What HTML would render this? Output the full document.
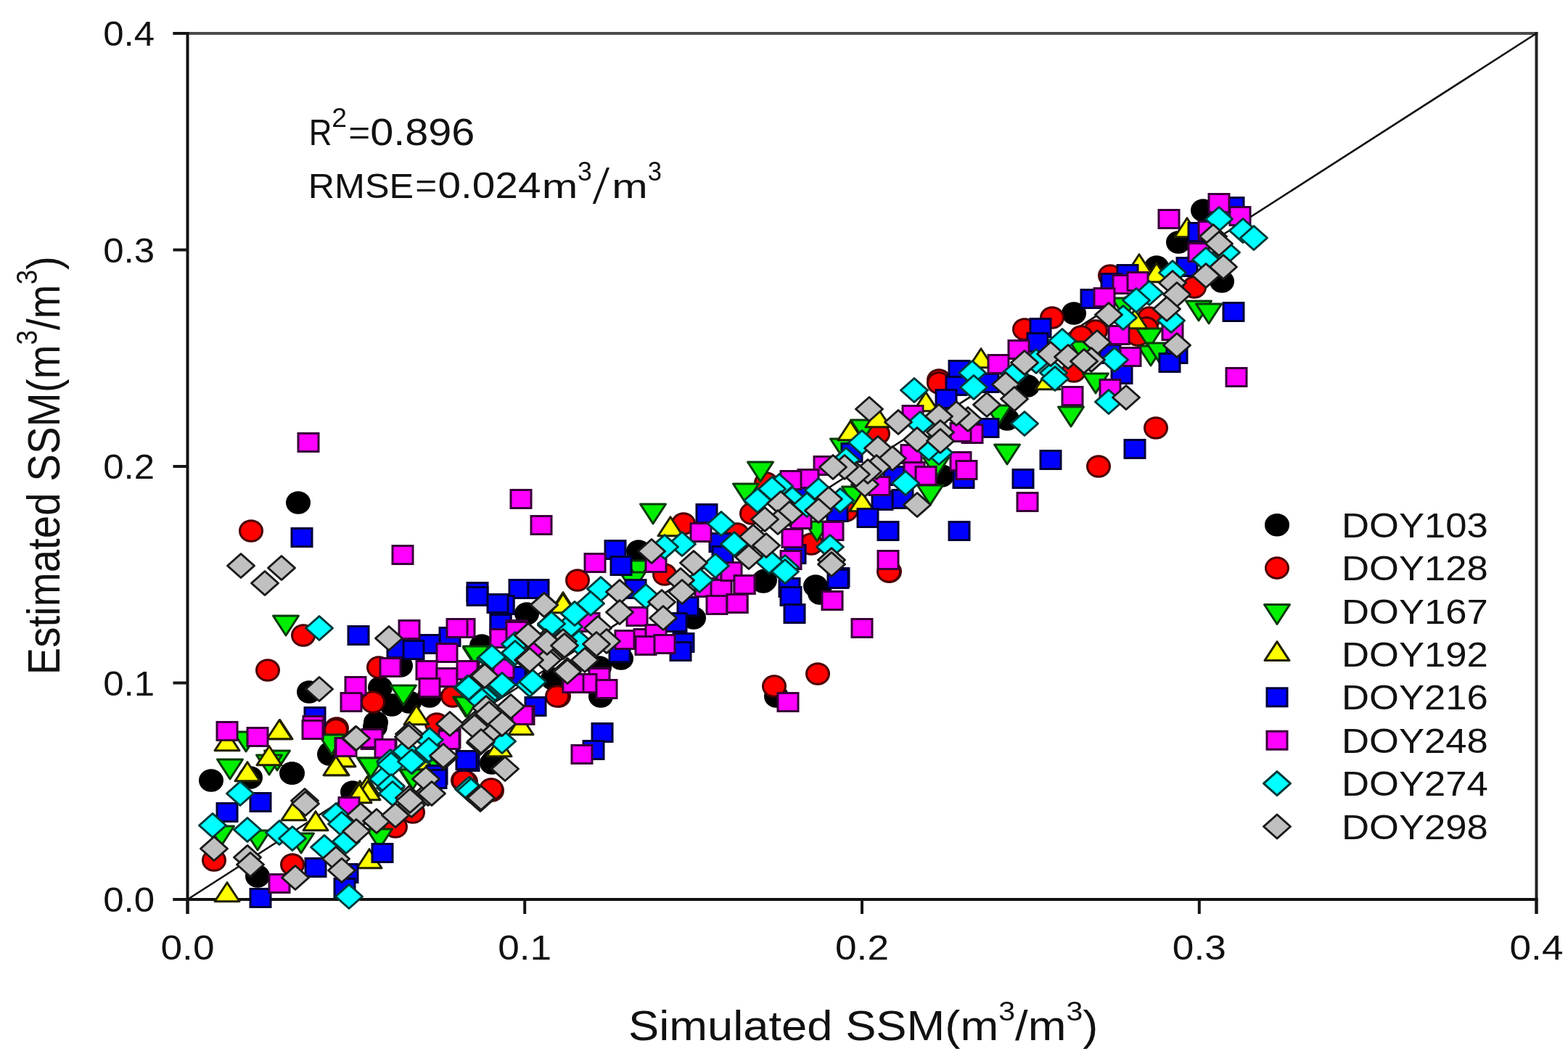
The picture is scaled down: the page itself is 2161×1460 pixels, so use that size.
<!DOCTYPE html>
<html><head><meta charset="utf-8"><title>SSM scatter</title>
<style>html,body{margin:0;padding:0;background:#fff;width:2161px;height:1460px;overflow:hidden;position:relative}</style>
</head><body>
<svg width="2161" height="1460" viewBox="0 0 2161 1460" style="position:absolute;left:0;top:0;filter:blur(0.5px)">
<rect width="100%" height="100%" fill="#ffffff"/>
<line x1="238.5" y1="46.0" x2="2119.5" y2="46.0" stroke="#4a4a4a" stroke-width="4"/>
<line x1="258.5" y1="44.0" x2="258.5" y2="1260.0" stroke="#111" stroke-width="4"/>
<line x1="2117.5" y1="44.0" x2="2117.5" y2="1260.0" stroke="#222" stroke-width="4"/>
<line x1="238.5" y1="1240.0" x2="2119.5" y2="1240.0" stroke="#111" stroke-width="4"/>
<line x1="258.5" y1="1240.0" x2="258.5" y2="1260.0" stroke="#151515" stroke-width="4"/>
<line x1="238.5" y1="1240.0" x2="258.5" y2="1240.0" stroke="#151515" stroke-width="4"/>
<line x1="723.2" y1="1240.0" x2="723.2" y2="1260.0" stroke="#151515" stroke-width="4"/>
<line x1="238.5" y1="941.5" x2="258.5" y2="941.5" stroke="#151515" stroke-width="4"/>
<line x1="1188.0" y1="1240.0" x2="1188.0" y2="1260.0" stroke="#151515" stroke-width="4"/>
<line x1="238.5" y1="643.0" x2="258.5" y2="643.0" stroke="#151515" stroke-width="4"/>
<line x1="1652.8" y1="1240.0" x2="1652.8" y2="1260.0" stroke="#151515" stroke-width="4"/>
<line x1="238.5" y1="344.5" x2="258.5" y2="344.5" stroke="#151515" stroke-width="4"/>
<line x1="2117.5" y1="1240.0" x2="2117.5" y2="1260.0" stroke="#151515" stroke-width="4"/>
<line x1="238.5" y1="46.0" x2="258.5" y2="46.0" stroke="#151515" stroke-width="4"/>
<g>
<line x1="258.5" y1="1240.0" x2="2117.5" y2="46.0" stroke="#111" stroke-width="2.6"/>
<ellipse cx="1658.0" cy="290.0" rx="15.5" ry="14.3" fill="#000000" stroke="#000000" stroke-width="3"/>
<ellipse cx="1624.0" cy="334.0" rx="15.5" ry="14.3" fill="#000000" stroke="#000000" stroke-width="3"/>
<ellipse cx="1594.0" cy="368.0" rx="15.5" ry="14.3" fill="#000000" stroke="#000000" stroke-width="3"/>
<ellipse cx="1684.0" cy="388.0" rx="15.5" ry="14.3" fill="#000000" stroke="#000000" stroke-width="3"/>
<ellipse cx="1480.0" cy="432.0" rx="15.5" ry="14.3" fill="#000000" stroke="#000000" stroke-width="3"/>
<ellipse cx="1416.0" cy="532.0" rx="15.5" ry="14.3" fill="#000000" stroke="#000000" stroke-width="3"/>
<ellipse cx="1388.0" cy="578.0" rx="15.5" ry="14.3" fill="#000000" stroke="#000000" stroke-width="3"/>
<ellipse cx="1298.0" cy="656.0" rx="15.5" ry="14.3" fill="#000000" stroke="#000000" stroke-width="3"/>
<ellipse cx="1124.0" cy="808.0" rx="15.5" ry="14.3" fill="#000000" stroke="#000000" stroke-width="3"/>
<ellipse cx="880.0" cy="760.0" rx="15.5" ry="14.3" fill="#000000" stroke="#000000" stroke-width="3"/>
<ellipse cx="1054.0" cy="800.0" rx="15.5" ry="14.3" fill="#000000" stroke="#000000" stroke-width="3"/>
<ellipse cx="956.0" cy="852.0" rx="15.5" ry="14.3" fill="#000000" stroke="#000000" stroke-width="3"/>
<ellipse cx="726.0" cy="846.0" rx="15.5" ry="14.3" fill="#000000" stroke="#000000" stroke-width="3"/>
<ellipse cx="664.0" cy="890.0" rx="15.5" ry="14.3" fill="#000000" stroke="#000000" stroke-width="3"/>
<ellipse cx="856.0" cy="908.0" rx="15.5" ry="14.3" fill="#000000" stroke="#000000" stroke-width="3"/>
<ellipse cx="826.0" cy="920.0" rx="15.5" ry="14.3" fill="#000000" stroke="#000000" stroke-width="3"/>
<ellipse cx="762.0" cy="936.0" rx="15.5" ry="14.3" fill="#000000" stroke="#000000" stroke-width="3"/>
<ellipse cx="828.0" cy="960.0" rx="15.5" ry="14.3" fill="#000000" stroke="#000000" stroke-width="3"/>
<ellipse cx="678.0" cy="1052.0" rx="15.5" ry="14.3" fill="#000000" stroke="#000000" stroke-width="3"/>
<ellipse cx="552.0" cy="918.0" rx="15.5" ry="14.3" fill="#000000" stroke="#000000" stroke-width="3"/>
<ellipse cx="426.0" cy="954.0" rx="15.5" ry="14.3" fill="#000000" stroke="#000000" stroke-width="3"/>
<ellipse cx="524.0" cy="948.0" rx="15.5" ry="14.3" fill="#000000" stroke="#000000" stroke-width="3"/>
<ellipse cx="540.0" cy="972.0" rx="15.5" ry="14.3" fill="#000000" stroke="#000000" stroke-width="3"/>
<ellipse cx="564.0" cy="968.0" rx="15.5" ry="14.3" fill="#000000" stroke="#000000" stroke-width="3"/>
<ellipse cx="592.0" cy="960.0" rx="15.5" ry="14.3" fill="#000000" stroke="#000000" stroke-width="3"/>
<ellipse cx="518.0" cy="996.0" rx="15.5" ry="14.3" fill="#000000" stroke="#000000" stroke-width="3"/>
<ellipse cx="454.0" cy="1040.0" rx="15.5" ry="14.3" fill="#000000" stroke="#000000" stroke-width="3"/>
<ellipse cx="402.0" cy="1066.0" rx="15.5" ry="14.3" fill="#000000" stroke="#000000" stroke-width="3"/>
<ellipse cx="486.0" cy="1092.0" rx="15.5" ry="14.3" fill="#000000" stroke="#000000" stroke-width="3"/>
<ellipse cx="517.0" cy="1002.0" rx="15.5" ry="14.3" fill="#000000" stroke="#000000" stroke-width="3"/>
<ellipse cx="455.0" cy="1038.0" rx="15.5" ry="14.3" fill="#000000" stroke="#000000" stroke-width="3"/>
<ellipse cx="345.0" cy="1072.0" rx="15.5" ry="14.3" fill="#000000" stroke="#000000" stroke-width="3"/>
<ellipse cx="291.0" cy="1076.0" rx="15.5" ry="14.3" fill="#000000" stroke="#000000" stroke-width="3"/>
<ellipse cx="403.0" cy="1066.0" rx="15.5" ry="14.3" fill="#000000" stroke="#000000" stroke-width="3"/>
<ellipse cx="355.0" cy="1208.0" rx="15.5" ry="14.3" fill="#000000" stroke="#000000" stroke-width="3"/>
<ellipse cx="487.0" cy="1096.0" rx="15.5" ry="14.3" fill="#000000" stroke="#000000" stroke-width="3"/>
<ellipse cx="681.0" cy="1048.0" rx="15.5" ry="14.3" fill="#000000" stroke="#000000" stroke-width="3"/>
<ellipse cx="411.0" cy="693.0" rx="15.5" ry="14.3" fill="#000000" stroke="#000000" stroke-width="3"/>
<ellipse cx="1052.0" cy="802.0" rx="15.5" ry="14.3" fill="#000000" stroke="#000000" stroke-width="3"/>
<ellipse cx="1130.0" cy="818.0" rx="15.5" ry="14.3" fill="#000000" stroke="#000000" stroke-width="3"/>
<ellipse cx="1070.0" cy="960.0" rx="15.5" ry="14.3" fill="#000000" stroke="#000000" stroke-width="3"/>
<ellipse cx="1646.0" cy="396.0" rx="15.5" ry="14.3" fill="#ff0000" stroke="#4a0000" stroke-width="3"/>
<ellipse cx="1530.0" cy="380.0" rx="15.5" ry="14.3" fill="#ff0000" stroke="#4a0000" stroke-width="3"/>
<ellipse cx="1584.0" cy="438.0" rx="15.5" ry="14.3" fill="#ff0000" stroke="#4a0000" stroke-width="3"/>
<ellipse cx="1510.0" cy="456.0" rx="15.5" ry="14.3" fill="#ff0000" stroke="#4a0000" stroke-width="3"/>
<ellipse cx="1580.0" cy="452.0" rx="15.5" ry="14.3" fill="#ff0000" stroke="#4a0000" stroke-width="3"/>
<ellipse cx="1568.0" cy="462.0" rx="15.5" ry="14.3" fill="#ff0000" stroke="#4a0000" stroke-width="3"/>
<ellipse cx="1593.0" cy="590.0" rx="15.5" ry="14.3" fill="#ff0000" stroke="#4a0000" stroke-width="3"/>
<ellipse cx="1514.0" cy="643.0" rx="15.5" ry="14.3" fill="#ff0000" stroke="#4a0000" stroke-width="3"/>
<ellipse cx="1450.0" cy="438.0" rx="15.5" ry="14.3" fill="#ff0000" stroke="#4a0000" stroke-width="3"/>
<ellipse cx="1412.0" cy="454.0" rx="15.5" ry="14.3" fill="#ff0000" stroke="#4a0000" stroke-width="3"/>
<ellipse cx="1490.0" cy="464.0" rx="15.5" ry="14.3" fill="#ff0000" stroke="#4a0000" stroke-width="3"/>
<ellipse cx="1480.0" cy="512.0" rx="15.5" ry="14.3" fill="#ff0000" stroke="#4a0000" stroke-width="3"/>
<ellipse cx="1294.0" cy="524.0" rx="15.5" ry="14.3" fill="#ff0000" stroke="#4a0000" stroke-width="3"/>
<ellipse cx="1294.0" cy="528.0" rx="15.5" ry="14.3" fill="#ff0000" stroke="#4a0000" stroke-width="3"/>
<ellipse cx="1210.0" cy="598.0" rx="15.5" ry="14.3" fill="#ff0000" stroke="#4a0000" stroke-width="3"/>
<ellipse cx="1226.0" cy="788.0" rx="15.5" ry="14.3" fill="#ff0000" stroke="#4a0000" stroke-width="3"/>
<ellipse cx="1166.0" cy="704.0" rx="15.5" ry="14.3" fill="#ff0000" stroke="#4a0000" stroke-width="3"/>
<ellipse cx="1118.0" cy="750.0" rx="15.5" ry="14.3" fill="#ff0000" stroke="#4a0000" stroke-width="3"/>
<ellipse cx="1056.0" cy="666.0" rx="15.5" ry="14.3" fill="#ff0000" stroke="#4a0000" stroke-width="3"/>
<ellipse cx="1036.0" cy="708.0" rx="15.5" ry="14.3" fill="#ff0000" stroke="#4a0000" stroke-width="3"/>
<ellipse cx="942.0" cy="722.0" rx="15.5" ry="14.3" fill="#ff0000" stroke="#4a0000" stroke-width="3"/>
<ellipse cx="1016.0" cy="736.0" rx="15.5" ry="14.3" fill="#ff0000" stroke="#4a0000" stroke-width="3"/>
<ellipse cx="916.0" cy="792.0" rx="15.5" ry="14.3" fill="#ff0000" stroke="#4a0000" stroke-width="3"/>
<ellipse cx="796.0" cy="800.0" rx="15.5" ry="14.3" fill="#ff0000" stroke="#4a0000" stroke-width="3"/>
<ellipse cx="770.0" cy="960.0" rx="15.5" ry="14.3" fill="#ff0000" stroke="#4a0000" stroke-width="3"/>
<ellipse cx="642.0" cy="1078.0" rx="15.5" ry="14.3" fill="#ff0000" stroke="#4a0000" stroke-width="3"/>
<ellipse cx="678.0" cy="1090.0" rx="15.5" ry="14.3" fill="#ff0000" stroke="#4a0000" stroke-width="3"/>
<ellipse cx="418.0" cy="876.0" rx="15.5" ry="14.3" fill="#ff0000" stroke="#4a0000" stroke-width="3"/>
<ellipse cx="522.0" cy="920.0" rx="15.5" ry="14.3" fill="#ff0000" stroke="#4a0000" stroke-width="3"/>
<ellipse cx="369.0" cy="924.0" rx="15.5" ry="14.3" fill="#ff0000" stroke="#4a0000" stroke-width="3"/>
<ellipse cx="514.0" cy="968.0" rx="15.5" ry="14.3" fill="#ff0000" stroke="#4a0000" stroke-width="3"/>
<ellipse cx="464.0" cy="1004.0" rx="15.5" ry="14.3" fill="#ff0000" stroke="#4a0000" stroke-width="3"/>
<ellipse cx="638.0" cy="1076.0" rx="15.5" ry="14.3" fill="#ff0000" stroke="#4a0000" stroke-width="3"/>
<ellipse cx="602.0" cy="998.0" rx="15.5" ry="14.3" fill="#ff0000" stroke="#4a0000" stroke-width="3"/>
<ellipse cx="768.0" cy="960.0" rx="15.5" ry="14.3" fill="#ff0000" stroke="#4a0000" stroke-width="3"/>
<ellipse cx="624.0" cy="960.0" rx="15.5" ry="14.3" fill="#ff0000" stroke="#4a0000" stroke-width="3"/>
<ellipse cx="463.0" cy="1006.0" rx="15.5" ry="14.3" fill="#ff0000" stroke="#4a0000" stroke-width="3"/>
<ellipse cx="295.0" cy="1186.0" rx="15.5" ry="14.3" fill="#ff0000" stroke="#4a0000" stroke-width="3"/>
<ellipse cx="403.0" cy="1192.0" rx="15.5" ry="14.3" fill="#ff0000" stroke="#4a0000" stroke-width="3"/>
<ellipse cx="569.0" cy="1120.0" rx="15.5" ry="14.3" fill="#ff0000" stroke="#4a0000" stroke-width="3"/>
<ellipse cx="545.0" cy="1140.0" rx="15.5" ry="14.3" fill="#ff0000" stroke="#4a0000" stroke-width="3"/>
<ellipse cx="639.0" cy="1076.0" rx="15.5" ry="14.3" fill="#ff0000" stroke="#4a0000" stroke-width="3"/>
<ellipse cx="677.0" cy="1088.0" rx="15.5" ry="14.3" fill="#ff0000" stroke="#4a0000" stroke-width="3"/>
<ellipse cx="346.0" cy="732.0" rx="15.5" ry="14.3" fill="#ff0000" stroke="#4a0000" stroke-width="3"/>
<ellipse cx="1225.0" cy="788.0" rx="15.5" ry="14.3" fill="#ff0000" stroke="#4a0000" stroke-width="3"/>
<ellipse cx="1127.0" cy="929.0" rx="15.5" ry="14.3" fill="#ff0000" stroke="#4a0000" stroke-width="3"/>
<ellipse cx="1067.0" cy="946.0" rx="15.5" ry="14.3" fill="#ff0000" stroke="#4a0000" stroke-width="3"/>
<polygon points="1532.5,411.0 1567.5,411.0 1550.0,438.0" fill="#00ee00" stroke="#0a3a0a" stroke-width="3" stroke-linejoin="round"/>
<polygon points="1634.5,415.0 1669.5,415.0 1652.0,442.0" fill="#00ee00" stroke="#0a3a0a" stroke-width="3" stroke-linejoin="round"/>
<polygon points="1648.5,419.0 1683.5,419.0 1666.0,446.0" fill="#00ee00" stroke="#0a3a0a" stroke-width="3" stroke-linejoin="round"/>
<polygon points="1566.5,453.0 1601.5,453.0 1584.0,480.0" fill="#00ee00" stroke="#0a3a0a" stroke-width="3" stroke-linejoin="round"/>
<polygon points="1568.5,477.0 1603.5,477.0 1586.0,504.0" fill="#00ee00" stroke="#0a3a0a" stroke-width="3" stroke-linejoin="round"/>
<polygon points="1580.5,473.0 1615.5,473.0 1598.0,500.0" fill="#00ee00" stroke="#0a3a0a" stroke-width="3" stroke-linejoin="round"/>
<polygon points="1492.5,515.0 1527.5,515.0 1510.0,542.0" fill="#00ee00" stroke="#0a3a0a" stroke-width="3" stroke-linejoin="round"/>
<polygon points="1474.5,471.0 1509.5,471.0 1492.0,498.0" fill="#00ee00" stroke="#0a3a0a" stroke-width="3" stroke-linejoin="round"/>
<polygon points="1458.5,561.0 1493.5,561.0 1476.0,588.0" fill="#00ee00" stroke="#0a3a0a" stroke-width="3" stroke-linejoin="round"/>
<polygon points="1358.5,559.0 1393.5,559.0 1376.0,586.0" fill="#00ee00" stroke="#0a3a0a" stroke-width="3" stroke-linejoin="round"/>
<polygon points="1172.5,579.0 1207.5,579.0 1190.0,606.0" fill="#00ee00" stroke="#0a3a0a" stroke-width="3" stroke-linejoin="round"/>
<polygon points="1144.5,605.0 1179.5,605.0 1162.0,632.0" fill="#00ee00" stroke="#0a3a0a" stroke-width="3" stroke-linejoin="round"/>
<polygon points="1272.5,631.0 1307.5,631.0 1290.0,658.0" fill="#00ee00" stroke="#0a3a0a" stroke-width="3" stroke-linejoin="round"/>
<polygon points="1264.5,669.0 1299.5,669.0 1282.0,696.0" fill="#00ee00" stroke="#0a3a0a" stroke-width="3" stroke-linejoin="round"/>
<polygon points="1160.5,671.0 1195.5,671.0 1178.0,698.0" fill="#00ee00" stroke="#0a3a0a" stroke-width="3" stroke-linejoin="round"/>
<polygon points="1108.5,719.0 1143.5,719.0 1126.0,746.0" fill="#00ee00" stroke="#0a3a0a" stroke-width="3" stroke-linejoin="round"/>
<polygon points="1370.5,613.0 1405.5,613.0 1388.0,640.0" fill="#00ee00" stroke="#0a3a0a" stroke-width="3" stroke-linejoin="round"/>
<polygon points="882.5,695.0 917.5,695.0 900.0,722.0" fill="#00ee00" stroke="#0a3a0a" stroke-width="3" stroke-linejoin="round"/>
<polygon points="1030.5,637.0 1065.5,637.0 1048.0,664.0" fill="#00ee00" stroke="#0a3a0a" stroke-width="3" stroke-linejoin="round"/>
<polygon points="1010.5,667.0 1045.5,667.0 1028.0,694.0" fill="#00ee00" stroke="#0a3a0a" stroke-width="3" stroke-linejoin="round"/>
<polygon points="862.5,773.0 897.5,773.0 880.0,800.0" fill="#00ee00" stroke="#0a3a0a" stroke-width="3" stroke-linejoin="round"/>
<polygon points="854.5,789.0 889.5,789.0 872.0,816.0" fill="#00ee00" stroke="#0a3a0a" stroke-width="3" stroke-linejoin="round"/>
<polygon points="638.5,893.0 673.5,893.0 656.0,920.0" fill="#00ee00" stroke="#0a3a0a" stroke-width="3" stroke-linejoin="round"/>
<polygon points="624.5,961.0 659.5,961.0 642.0,988.0" fill="#00ee00" stroke="#0a3a0a" stroke-width="3" stroke-linejoin="round"/>
<polygon points="376.5,849.0 411.5,849.0 394.0,876.0" fill="#00ee00" stroke="#0a3a0a" stroke-width="3" stroke-linejoin="round"/>
<polygon points="538.5,945.0 573.5,945.0 556.0,972.0" fill="#00ee00" stroke="#0a3a0a" stroke-width="3" stroke-linejoin="round"/>
<polygon points="440.5,1013.0 475.5,1013.0 458.0,1040.0" fill="#00ee00" stroke="#0a3a0a" stroke-width="3" stroke-linejoin="round"/>
<polygon points="492.5,1045.0 527.5,1045.0 510.0,1072.0" fill="#00ee00" stroke="#0a3a0a" stroke-width="3" stroke-linejoin="round"/>
<polygon points="364.5,1035.0 399.5,1035.0 382.0,1062.0" fill="#00ee00" stroke="#0a3a0a" stroke-width="3" stroke-linejoin="round"/>
<polygon points="578.5,1047.0 613.5,1047.0 596.0,1074.0" fill="#00ee00" stroke="#0a3a0a" stroke-width="3" stroke-linejoin="round"/>
<polygon points="550.5,1061.0 585.5,1061.0 568.0,1088.0" fill="#00ee00" stroke="#0a3a0a" stroke-width="3" stroke-linejoin="round"/>
<polygon points="626.5,961.0 661.5,961.0 644.0,988.0" fill="#00ee00" stroke="#0a3a0a" stroke-width="3" stroke-linejoin="round"/>
<polygon points="638.5,891.0 673.5,891.0 656.0,918.0" fill="#00ee00" stroke="#0a3a0a" stroke-width="3" stroke-linejoin="round"/>
<polygon points="321.5,1009.0 356.5,1009.0 339.0,1036.0" fill="#00ee00" stroke="#0a3a0a" stroke-width="3" stroke-linejoin="round"/>
<polygon points="439.5,1013.0 474.5,1013.0 457.0,1040.0" fill="#00ee00" stroke="#0a3a0a" stroke-width="3" stroke-linejoin="round"/>
<polygon points="493.5,1045.0 528.5,1045.0 511.0,1072.0" fill="#00ee00" stroke="#0a3a0a" stroke-width="3" stroke-linejoin="round"/>
<polygon points="299.5,1047.0 334.5,1047.0 317.0,1074.0" fill="#00ee00" stroke="#0a3a0a" stroke-width="3" stroke-linejoin="round"/>
<polygon points="353.5,1041.0 388.5,1041.0 371.0,1068.0" fill="#00ee00" stroke="#0a3a0a" stroke-width="3" stroke-linejoin="round"/>
<polygon points="287.5,1139.0 322.5,1139.0 305.0,1166.0" fill="#00ee00" stroke="#0a3a0a" stroke-width="3" stroke-linejoin="round"/>
<polygon points="337.5,1145.0 372.5,1145.0 355.0,1172.0" fill="#00ee00" stroke="#0a3a0a" stroke-width="3" stroke-linejoin="round"/>
<polygon points="397.5,1149.0 432.5,1149.0 415.0,1176.0" fill="#00ee00" stroke="#0a3a0a" stroke-width="3" stroke-linejoin="round"/>
<polygon points="505.5,1143.0 540.5,1143.0 523.0,1170.0" fill="#00ee00" stroke="#0a3a0a" stroke-width="3" stroke-linejoin="round"/>
<polygon points="581.5,1047.0 616.5,1047.0 599.0,1074.0" fill="#00ee00" stroke="#0a3a0a" stroke-width="3" stroke-linejoin="round"/>
<polygon points="551.5,1061.0 586.5,1061.0 569.0,1088.0" fill="#00ee00" stroke="#0a3a0a" stroke-width="3" stroke-linejoin="round"/>
<polygon points="1619.0,326.7 1653.0,326.7 1636.0,300.7" fill="#ffff00" stroke="#202000" stroke-width="3" stroke-linejoin="round"/>
<polygon points="1553.0,376.7 1587.0,376.7 1570.0,350.7" fill="#ffff00" stroke="#202000" stroke-width="3" stroke-linejoin="round"/>
<polygon points="1577.0,388.7 1611.0,388.7 1594.0,362.7" fill="#ffff00" stroke="#202000" stroke-width="3" stroke-linejoin="round"/>
<polygon points="1547.0,452.7 1581.0,452.7 1564.0,426.7" fill="#ffff00" stroke="#202000" stroke-width="3" stroke-linejoin="round"/>
<polygon points="1335.0,506.7 1369.0,506.7 1352.0,480.7" fill="#ffff00" stroke="#202000" stroke-width="3" stroke-linejoin="round"/>
<polygon points="1259.0,566.7 1293.0,566.7 1276.0,540.7" fill="#ffff00" stroke="#202000" stroke-width="3" stroke-linejoin="round"/>
<polygon points="1427.0,536.7 1461.0,536.7 1444.0,510.7" fill="#ffff00" stroke="#202000" stroke-width="3" stroke-linejoin="round"/>
<polygon points="1193.0,588.7 1227.0,588.7 1210.0,562.7" fill="#ffff00" stroke="#202000" stroke-width="3" stroke-linejoin="round"/>
<polygon points="1155.0,606.7 1189.0,606.7 1172.0,580.7" fill="#ffff00" stroke="#202000" stroke-width="3" stroke-linejoin="round"/>
<polygon points="1171.0,704.7 1205.0,704.7 1188.0,678.7" fill="#ffff00" stroke="#202000" stroke-width="3" stroke-linejoin="round"/>
<polygon points="907.0,738.7 941.0,738.7 924.0,712.7" fill="#ffff00" stroke="#202000" stroke-width="3" stroke-linejoin="round"/>
<polygon points="759.0,842.7 793.0,842.7 776.0,816.7" fill="#ffff00" stroke="#202000" stroke-width="3" stroke-linejoin="round"/>
<polygon points="701.0,1012.7 735.0,1012.7 718.0,986.7" fill="#ffff00" stroke="#202000" stroke-width="3" stroke-linejoin="round"/>
<polygon points="671.0,1042.7 705.0,1042.7 688.0,1016.7" fill="#ffff00" stroke="#202000" stroke-width="3" stroke-linejoin="round"/>
<polygon points="557.0,998.7 591.0,998.7 574.0,972.7" fill="#ffff00" stroke="#202000" stroke-width="3" stroke-linejoin="round"/>
<polygon points="369.0,1018.7 403.0,1018.7 386.0,992.7" fill="#ffff00" stroke="#202000" stroke-width="3" stroke-linejoin="round"/>
<polygon points="447.0,1068.7 481.0,1068.7 464.0,1042.7" fill="#ffff00" stroke="#202000" stroke-width="3" stroke-linejoin="round"/>
<polygon points="455.0,1056.7 489.0,1056.7 472.0,1030.7" fill="#ffff00" stroke="#202000" stroke-width="3" stroke-linejoin="round"/>
<polygon points="563.0,1060.7 597.0,1060.7 580.0,1034.7" fill="#ffff00" stroke="#202000" stroke-width="3" stroke-linejoin="round"/>
<polygon points="479.0,1102.7 513.0,1102.7 496.0,1076.7" fill="#ffff00" stroke="#202000" stroke-width="3" stroke-linejoin="round"/>
<polygon points="489.0,1096.7 523.0,1096.7 506.0,1070.7" fill="#ffff00" stroke="#202000" stroke-width="3" stroke-linejoin="round"/>
<polygon points="759.0,844.7 793.0,844.7 776.0,818.7" fill="#ffff00" stroke="#202000" stroke-width="3" stroke-linejoin="round"/>
<polygon points="296.0,1034.7 330.0,1034.7 313.0,1008.7" fill="#ffff00" stroke="#202000" stroke-width="3" stroke-linejoin="round"/>
<polygon points="368.0,1018.7 402.0,1018.7 385.0,992.7" fill="#ffff00" stroke="#202000" stroke-width="3" stroke-linejoin="round"/>
<polygon points="456.0,1056.7 490.0,1056.7 473.0,1030.7" fill="#ffff00" stroke="#202000" stroke-width="3" stroke-linejoin="round"/>
<polygon points="446.0,1068.7 480.0,1068.7 463.0,1042.7" fill="#ffff00" stroke="#202000" stroke-width="3" stroke-linejoin="round"/>
<polygon points="354.0,1054.7 388.0,1054.7 371.0,1028.7" fill="#ffff00" stroke="#202000" stroke-width="3" stroke-linejoin="round"/>
<polygon points="324.0,1076.7 358.0,1076.7 341.0,1050.7" fill="#ffff00" stroke="#202000" stroke-width="3" stroke-linejoin="round"/>
<polygon points="296.0,1242.7 330.0,1242.7 313.0,1216.7" fill="#ffff00" stroke="#202000" stroke-width="3" stroke-linejoin="round"/>
<polygon points="388.0,1130.7 422.0,1130.7 405.0,1104.7" fill="#ffff00" stroke="#202000" stroke-width="3" stroke-linejoin="round"/>
<polygon points="418.0,1144.7 452.0,1144.7 435.0,1118.7" fill="#ffff00" stroke="#202000" stroke-width="3" stroke-linejoin="round"/>
<polygon points="490.0,1102.7 524.0,1102.7 507.0,1076.7" fill="#ffff00" stroke="#202000" stroke-width="3" stroke-linejoin="round"/>
<polygon points="478.0,1106.7 512.0,1106.7 495.0,1080.7" fill="#ffff00" stroke="#202000" stroke-width="3" stroke-linejoin="round"/>
<polygon points="492.0,1196.7 526.0,1196.7 509.0,1170.7" fill="#ffff00" stroke="#202000" stroke-width="3" stroke-linejoin="round"/>
<rect x="1686.0" y="272.5" width="28" height="25" fill="#0000ff" stroke="#00003a" stroke-width="3"/>
<rect x="1638.0" y="307.5" width="28" height="25" fill="#0000ff" stroke="#00003a" stroke-width="3"/>
<rect x="1622.0" y="355.5" width="28" height="25" fill="#0000ff" stroke="#00003a" stroke-width="3"/>
<rect x="1540.0" y="365.5" width="28" height="25" fill="#0000ff" stroke="#00003a" stroke-width="3"/>
<rect x="1518.0" y="377.5" width="28" height="25" fill="#0000ff" stroke="#00003a" stroke-width="3"/>
<rect x="1490.0" y="399.5" width="28" height="25" fill="#0000ff" stroke="#00003a" stroke-width="3"/>
<rect x="1686.0" y="417.5" width="28" height="25" fill="#0000ff" stroke="#00003a" stroke-width="3"/>
<rect x="1608.0" y="475.5" width="28" height="25" fill="#0000ff" stroke="#00003a" stroke-width="3"/>
<rect x="1516.0" y="475.5" width="28" height="25" fill="#0000ff" stroke="#00003a" stroke-width="3"/>
<rect x="1598.0" y="487.5" width="28" height="25" fill="#0000ff" stroke="#00003a" stroke-width="3"/>
<rect x="1532.0" y="503.5" width="28" height="25" fill="#0000ff" stroke="#00003a" stroke-width="3"/>
<rect x="1550.0" y="606.5" width="28" height="25" fill="#0000ff" stroke="#00003a" stroke-width="3"/>
<rect x="1420.0" y="439.5" width="28" height="25" fill="#0000ff" stroke="#00003a" stroke-width="3"/>
<rect x="1416.0" y="459.5" width="28" height="25" fill="#0000ff" stroke="#00003a" stroke-width="3"/>
<rect x="1308.0" y="497.5" width="28" height="25" fill="#0000ff" stroke="#00003a" stroke-width="3"/>
<rect x="1304.0" y="519.5" width="28" height="25" fill="#0000ff" stroke="#00003a" stroke-width="3"/>
<rect x="1290.0" y="537.5" width="28" height="25" fill="#0000ff" stroke="#00003a" stroke-width="3"/>
<rect x="1348.0" y="515.5" width="28" height="25" fill="#0000ff" stroke="#00003a" stroke-width="3"/>
<rect x="1348.0" y="577.5" width="28" height="25" fill="#0000ff" stroke="#00003a" stroke-width="3"/>
<rect x="1314.0" y="647.5" width="28" height="25" fill="#0000ff" stroke="#00003a" stroke-width="3"/>
<rect x="1230.0" y="675.5" width="28" height="25" fill="#0000ff" stroke="#00003a" stroke-width="3"/>
<rect x="1218.0" y="643.5" width="28" height="25" fill="#0000ff" stroke="#00003a" stroke-width="3"/>
<rect x="1160.0" y="611.5" width="28" height="25" fill="#0000ff" stroke="#00003a" stroke-width="3"/>
<rect x="1202.0" y="677.5" width="28" height="25" fill="#0000ff" stroke="#00003a" stroke-width="3"/>
<rect x="1182.0" y="701.5" width="28" height="25" fill="#0000ff" stroke="#00003a" stroke-width="3"/>
<rect x="1210.0" y="719.5" width="28" height="25" fill="#0000ff" stroke="#00003a" stroke-width="3"/>
<rect x="1308.0" y="719.5" width="28" height="25" fill="#0000ff" stroke="#00003a" stroke-width="3"/>
<rect x="1142.0" y="783.5" width="28" height="25" fill="#0000ff" stroke="#00003a" stroke-width="3"/>
<rect x="1140.0" y="693.5" width="28" height="25" fill="#0000ff" stroke="#00003a" stroke-width="3"/>
<rect x="1088.0" y="667.5" width="28" height="25" fill="#0000ff" stroke="#00003a" stroke-width="3"/>
<rect x="1082.0" y="751.5" width="28" height="25" fill="#0000ff" stroke="#00003a" stroke-width="3"/>
<rect x="1074.0" y="797.5" width="28" height="25" fill="#0000ff" stroke="#00003a" stroke-width="3"/>
<rect x="1434.0" y="621.5" width="28" height="25" fill="#0000ff" stroke="#00003a" stroke-width="3"/>
<rect x="1396.0" y="647.5" width="28" height="25" fill="#0000ff" stroke="#00003a" stroke-width="3"/>
<rect x="960.0" y="695.5" width="28" height="25" fill="#0000ff" stroke="#00003a" stroke-width="3"/>
<rect x="978.0" y="735.5" width="28" height="25" fill="#0000ff" stroke="#00003a" stroke-width="3"/>
<rect x="834.0" y="745.5" width="28" height="25" fill="#0000ff" stroke="#00003a" stroke-width="3"/>
<rect x="842.0" y="767.5" width="28" height="25" fill="#0000ff" stroke="#00003a" stroke-width="3"/>
<rect x="982.0" y="753.5" width="28" height="25" fill="#0000ff" stroke="#00003a" stroke-width="3"/>
<rect x="934.0" y="823.5" width="28" height="25" fill="#0000ff" stroke="#00003a" stroke-width="3"/>
<rect x="918.0" y="845.5" width="28" height="25" fill="#0000ff" stroke="#00003a" stroke-width="3"/>
<rect x="862.0" y="799.5" width="28" height="25" fill="#0000ff" stroke="#00003a" stroke-width="3"/>
<rect x="644.0" y="803.5" width="28" height="25" fill="#0000ff" stroke="#00003a" stroke-width="3"/>
<rect x="702.0" y="799.5" width="28" height="25" fill="#0000ff" stroke="#00003a" stroke-width="3"/>
<rect x="728.0" y="799.5" width="28" height="25" fill="#0000ff" stroke="#00003a" stroke-width="3"/>
<rect x="680.0" y="821.5" width="28" height="25" fill="#0000ff" stroke="#00003a" stroke-width="3"/>
<rect x="676.0" y="847.5" width="28" height="25" fill="#0000ff" stroke="#00003a" stroke-width="3"/>
<rect x="928.0" y="873.5" width="28" height="25" fill="#0000ff" stroke="#00003a" stroke-width="3"/>
<rect x="924.0" y="885.5" width="28" height="25" fill="#0000ff" stroke="#00003a" stroke-width="3"/>
<rect x="840.0" y="887.5" width="28" height="25" fill="#0000ff" stroke="#00003a" stroke-width="3"/>
<rect x="698.0" y="919.5" width="28" height="25" fill="#0000ff" stroke="#00003a" stroke-width="3"/>
<rect x="724.0" y="961.5" width="28" height="25" fill="#0000ff" stroke="#00003a" stroke-width="3"/>
<rect x="632.0" y="1037.5" width="28" height="25" fill="#0000ff" stroke="#00003a" stroke-width="3"/>
<rect x="816.0" y="997.5" width="28" height="25" fill="#0000ff" stroke="#00003a" stroke-width="3"/>
<rect x="804.0" y="1021.5" width="28" height="25" fill="#0000ff" stroke="#00003a" stroke-width="3"/>
<rect x="480.0" y="863.5" width="28" height="25" fill="#0000ff" stroke="#00003a" stroke-width="3"/>
<rect x="606.0" y="865.5" width="28" height="25" fill="#0000ff" stroke="#00003a" stroke-width="3"/>
<rect x="578.0" y="875.5" width="28" height="25" fill="#0000ff" stroke="#00003a" stroke-width="3"/>
<rect x="534.0" y="881.5" width="28" height="25" fill="#0000ff" stroke="#00003a" stroke-width="3"/>
<rect x="556.0" y="883.5" width="28" height="25" fill="#0000ff" stroke="#00003a" stroke-width="3"/>
<rect x="420.0" y="975.5" width="28" height="25" fill="#0000ff" stroke="#00003a" stroke-width="3"/>
<rect x="588.0" y="1055.5" width="28" height="25" fill="#0000ff" stroke="#00003a" stroke-width="3"/>
<rect x="676.0" y="847.5" width="28" height="25" fill="#0000ff" stroke="#00003a" stroke-width="3"/>
<rect x="680.0" y="821.5" width="28" height="25" fill="#0000ff" stroke="#00003a" stroke-width="3"/>
<rect x="644.0" y="809.5" width="28" height="25" fill="#0000ff" stroke="#00003a" stroke-width="3"/>
<rect x="696.0" y="919.5" width="28" height="25" fill="#0000ff" stroke="#00003a" stroke-width="3"/>
<rect x="345.0" y="1093.5" width="28" height="25" fill="#0000ff" stroke="#00003a" stroke-width="3"/>
<rect x="299.0" y="1107.5" width="28" height="25" fill="#0000ff" stroke="#00003a" stroke-width="3"/>
<rect x="345.0" y="1225.5" width="28" height="25" fill="#0000ff" stroke="#00003a" stroke-width="3"/>
<rect x="421.0" y="1183.5" width="28" height="25" fill="#0000ff" stroke="#00003a" stroke-width="3"/>
<rect x="465.0" y="1191.5" width="28" height="25" fill="#0000ff" stroke="#00003a" stroke-width="3"/>
<rect x="461.0" y="1211.5" width="28" height="25" fill="#0000ff" stroke="#00003a" stroke-width="3"/>
<rect x="513.0" y="1163.5" width="28" height="25" fill="#0000ff" stroke="#00003a" stroke-width="3"/>
<rect x="587.0" y="1061.5" width="28" height="25" fill="#0000ff" stroke="#00003a" stroke-width="3"/>
<rect x="629.0" y="1035.5" width="28" height="25" fill="#0000ff" stroke="#00003a" stroke-width="3"/>
<rect x="402.0" y="728.5" width="28" height="25" fill="#0000ff" stroke="#00003a" stroke-width="3"/>
<rect x="672.0" y="819.5" width="28" height="25" fill="#0000ff" stroke="#00003a" stroke-width="3"/>
<rect x="1076.0" y="809.5" width="28" height="25" fill="#0000ff" stroke="#00003a" stroke-width="3"/>
<rect x="1081.0" y="833.5" width="28" height="25" fill="#0000ff" stroke="#00003a" stroke-width="3"/>
<rect x="1141.0" y="785.5" width="28" height="25" fill="#0000ff" stroke="#00003a" stroke-width="3"/>
<rect x="1666.0" y="267.5" width="28" height="25" fill="#ff00ff" stroke="#3a003a" stroke-width="3"/>
<rect x="1695.0" y="285.5" width="28" height="25" fill="#ff00ff" stroke="#3a003a" stroke-width="3"/>
<rect x="1597.0" y="289.5" width="28" height="25" fill="#ff00ff" stroke="#3a003a" stroke-width="3"/>
<rect x="1652.0" y="305.5" width="28" height="25" fill="#ff00ff" stroke="#3a003a" stroke-width="3"/>
<rect x="1638.0" y="335.5" width="28" height="25" fill="#ff00ff" stroke="#3a003a" stroke-width="3"/>
<rect x="1534.0" y="379.5" width="28" height="25" fill="#ff00ff" stroke="#3a003a" stroke-width="3"/>
<rect x="1554.0" y="375.5" width="28" height="25" fill="#ff00ff" stroke="#3a003a" stroke-width="3"/>
<rect x="1508.0" y="397.5" width="28" height="25" fill="#ff00ff" stroke="#3a003a" stroke-width="3"/>
<rect x="1528.0" y="449.5" width="28" height="25" fill="#ff00ff" stroke="#3a003a" stroke-width="3"/>
<rect x="1602.0" y="443.5" width="28" height="25" fill="#ff00ff" stroke="#3a003a" stroke-width="3"/>
<rect x="1544.0" y="479.5" width="28" height="25" fill="#ff00ff" stroke="#3a003a" stroke-width="3"/>
<rect x="1690.0" y="507.5" width="28" height="25" fill="#ff00ff" stroke="#3a003a" stroke-width="3"/>
<rect x="1516.0" y="523.5" width="28" height="25" fill="#ff00ff" stroke="#3a003a" stroke-width="3"/>
<rect x="1390.0" y="469.5" width="28" height="25" fill="#ff00ff" stroke="#3a003a" stroke-width="3"/>
<rect x="1362.0" y="489.5" width="28" height="25" fill="#ff00ff" stroke="#3a003a" stroke-width="3"/>
<rect x="1464.0" y="533.5" width="28" height="25" fill="#ff00ff" stroke="#3a003a" stroke-width="3"/>
<rect x="1326.0" y="585.5" width="28" height="25" fill="#ff00ff" stroke="#3a003a" stroke-width="3"/>
<rect x="1310.0" y="583.5" width="28" height="25" fill="#ff00ff" stroke="#3a003a" stroke-width="3"/>
<rect x="1244.0" y="559.5" width="28" height="25" fill="#ff00ff" stroke="#3a003a" stroke-width="3"/>
<rect x="1242.0" y="613.5" width="28" height="25" fill="#ff00ff" stroke="#3a003a" stroke-width="3"/>
<rect x="1310.0" y="623.5" width="28" height="25" fill="#ff00ff" stroke="#3a003a" stroke-width="3"/>
<rect x="1318.0" y="635.5" width="28" height="25" fill="#ff00ff" stroke="#3a003a" stroke-width="3"/>
<rect x="1246.0" y="637.5" width="28" height="25" fill="#ff00ff" stroke="#3a003a" stroke-width="3"/>
<rect x="1262.0" y="643.5" width="28" height="25" fill="#ff00ff" stroke="#3a003a" stroke-width="3"/>
<rect x="1198.0" y="657.5" width="28" height="25" fill="#ff00ff" stroke="#3a003a" stroke-width="3"/>
<rect x="1122.0" y="629.5" width="28" height="25" fill="#ff00ff" stroke="#3a003a" stroke-width="3"/>
<rect x="1210.0" y="759.5" width="28" height="25" fill="#ff00ff" stroke="#3a003a" stroke-width="3"/>
<rect x="1100.0" y="647.5" width="28" height="25" fill="#ff00ff" stroke="#3a003a" stroke-width="3"/>
<rect x="1076.0" y="649.5" width="28" height="25" fill="#ff00ff" stroke="#3a003a" stroke-width="3"/>
<rect x="1090.0" y="703.5" width="28" height="25" fill="#ff00ff" stroke="#3a003a" stroke-width="3"/>
<rect x="1134.0" y="719.5" width="28" height="25" fill="#ff00ff" stroke="#3a003a" stroke-width="3"/>
<rect x="1078.0" y="729.5" width="28" height="25" fill="#ff00ff" stroke="#3a003a" stroke-width="3"/>
<rect x="1076.0" y="759.5" width="28" height="25" fill="#ff00ff" stroke="#3a003a" stroke-width="3"/>
<rect x="1402.0" y="679.5" width="28" height="25" fill="#ff00ff" stroke="#3a003a" stroke-width="3"/>
<rect x="704.0" y="675.5" width="28" height="25" fill="#ff00ff" stroke="#3a003a" stroke-width="3"/>
<rect x="732.0" y="711.5" width="28" height="25" fill="#ff00ff" stroke="#3a003a" stroke-width="3"/>
<rect x="952.0" y="721.5" width="28" height="25" fill="#ff00ff" stroke="#3a003a" stroke-width="3"/>
<rect x="806.0" y="763.5" width="28" height="25" fill="#ff00ff" stroke="#3a003a" stroke-width="3"/>
<rect x="890.0" y="763.5" width="28" height="25" fill="#ff00ff" stroke="#3a003a" stroke-width="3"/>
<rect x="988.0" y="775.5" width="28" height="25" fill="#ff00ff" stroke="#3a003a" stroke-width="3"/>
<rect x="958.0" y="797.5" width="28" height="25" fill="#ff00ff" stroke="#3a003a" stroke-width="3"/>
<rect x="980.0" y="799.5" width="28" height="25" fill="#ff00ff" stroke="#3a003a" stroke-width="3"/>
<rect x="1012.0" y="793.5" width="28" height="25" fill="#ff00ff" stroke="#3a003a" stroke-width="3"/>
<rect x="974.0" y="821.5" width="28" height="25" fill="#ff00ff" stroke="#3a003a" stroke-width="3"/>
<rect x="1002.0" y="819.5" width="28" height="25" fill="#ff00ff" stroke="#3a003a" stroke-width="3"/>
<rect x="864.0" y="837.5" width="28" height="25" fill="#ff00ff" stroke="#3a003a" stroke-width="3"/>
<rect x="626.0" y="853.5" width="28" height="25" fill="#ff00ff" stroke="#3a003a" stroke-width="3"/>
<rect x="698.0" y="855.5" width="28" height="25" fill="#ff00ff" stroke="#3a003a" stroke-width="3"/>
<rect x="676.0" y="867.5" width="28" height="25" fill="#ff00ff" stroke="#3a003a" stroke-width="3"/>
<rect x="798.0" y="845.5" width="28" height="25" fill="#ff00ff" stroke="#3a003a" stroke-width="3"/>
<rect x="848.0" y="869.5" width="28" height="25" fill="#ff00ff" stroke="#3a003a" stroke-width="3"/>
<rect x="874.0" y="867.5" width="28" height="25" fill="#ff00ff" stroke="#3a003a" stroke-width="3"/>
<rect x="890.0" y="861.5" width="28" height="25" fill="#ff00ff" stroke="#3a003a" stroke-width="3"/>
<rect x="726.0" y="885.5" width="28" height="25" fill="#ff00ff" stroke="#3a003a" stroke-width="3"/>
<rect x="876.0" y="877.5" width="28" height="25" fill="#ff00ff" stroke="#3a003a" stroke-width="3"/>
<rect x="902.0" y="875.5" width="28" height="25" fill="#ff00ff" stroke="#3a003a" stroke-width="3"/>
<rect x="632.0" y="911.5" width="28" height="25" fill="#ff00ff" stroke="#3a003a" stroke-width="3"/>
<rect x="678.0" y="911.5" width="28" height="25" fill="#ff00ff" stroke="#3a003a" stroke-width="3"/>
<rect x="776.0" y="929.5" width="28" height="25" fill="#ff00ff" stroke="#3a003a" stroke-width="3"/>
<rect x="812.0" y="921.5" width="28" height="25" fill="#ff00ff" stroke="#3a003a" stroke-width="3"/>
<rect x="794.0" y="929.5" width="28" height="25" fill="#ff00ff" stroke="#3a003a" stroke-width="3"/>
<rect x="822.0" y="937.5" width="28" height="25" fill="#ff00ff" stroke="#3a003a" stroke-width="3"/>
<rect x="708.0" y="973.5" width="28" height="25" fill="#ff00ff" stroke="#3a003a" stroke-width="3"/>
<rect x="788.0" y="1027.5" width="28" height="25" fill="#ff00ff" stroke="#3a003a" stroke-width="3"/>
<rect x="550.0" y="855.5" width="28" height="25" fill="#ff00ff" stroke="#3a003a" stroke-width="3"/>
<rect x="616.0" y="853.5" width="28" height="25" fill="#ff00ff" stroke="#3a003a" stroke-width="3"/>
<rect x="602.0" y="887.5" width="28" height="25" fill="#ff00ff" stroke="#3a003a" stroke-width="3"/>
<rect x="524.0" y="907.5" width="28" height="25" fill="#ff00ff" stroke="#3a003a" stroke-width="3"/>
<rect x="574.0" y="911.5" width="28" height="25" fill="#ff00ff" stroke="#3a003a" stroke-width="3"/>
<rect x="602.0" y="921.5" width="28" height="25" fill="#ff00ff" stroke="#3a003a" stroke-width="3"/>
<rect x="476.0" y="933.5" width="28" height="25" fill="#ff00ff" stroke="#3a003a" stroke-width="3"/>
<rect x="470.0" y="955.5" width="28" height="25" fill="#ff00ff" stroke="#3a003a" stroke-width="3"/>
<rect x="578.0" y="935.5" width="28" height="25" fill="#ff00ff" stroke="#3a003a" stroke-width="3"/>
<rect x="418.0" y="987.5" width="28" height="25" fill="#ff00ff" stroke="#3a003a" stroke-width="3"/>
<rect x="498.0" y="1007.5" width="28" height="25" fill="#ff00ff" stroke="#3a003a" stroke-width="3"/>
<rect x="462.0" y="1017.5" width="28" height="25" fill="#ff00ff" stroke="#3a003a" stroke-width="3"/>
<rect x="518.0" y="1019.5" width="28" height="25" fill="#ff00ff" stroke="#3a003a" stroke-width="3"/>
<rect x="606.0" y="1005.5" width="28" height="25" fill="#ff00ff" stroke="#3a003a" stroke-width="3"/>
<rect x="706.0" y="973.5" width="28" height="25" fill="#ff00ff" stroke="#3a003a" stroke-width="3"/>
<rect x="630.0" y="911.5" width="28" height="25" fill="#ff00ff" stroke="#3a003a" stroke-width="3"/>
<rect x="676.0" y="867.5" width="28" height="25" fill="#ff00ff" stroke="#3a003a" stroke-width="3"/>
<rect x="698.0" y="857.5" width="28" height="25" fill="#ff00ff" stroke="#3a003a" stroke-width="3"/>
<rect x="776.0" y="929.5" width="28" height="25" fill="#ff00ff" stroke="#3a003a" stroke-width="3"/>
<rect x="680.0" y="909.5" width="28" height="25" fill="#ff00ff" stroke="#3a003a" stroke-width="3"/>
<rect x="299.0" y="995.5" width="28" height="25" fill="#ff00ff" stroke="#3a003a" stroke-width="3"/>
<rect x="341.0" y="1003.5" width="28" height="25" fill="#ff00ff" stroke="#3a003a" stroke-width="3"/>
<rect x="417.0" y="993.5" width="28" height="25" fill="#ff00ff" stroke="#3a003a" stroke-width="3"/>
<rect x="499.0" y="1005.5" width="28" height="25" fill="#ff00ff" stroke="#3a003a" stroke-width="3"/>
<rect x="463.0" y="1017.5" width="28" height="25" fill="#ff00ff" stroke="#3a003a" stroke-width="3"/>
<rect x="517.0" y="1019.5" width="28" height="25" fill="#ff00ff" stroke="#3a003a" stroke-width="3"/>
<rect x="371.0" y="1205.5" width="28" height="25" fill="#ff00ff" stroke="#3a003a" stroke-width="3"/>
<rect x="467.0" y="1099.5" width="28" height="25" fill="#ff00ff" stroke="#3a003a" stroke-width="3"/>
<rect x="605.0" y="1007.5" width="28" height="25" fill="#ff00ff" stroke="#3a003a" stroke-width="3"/>
<rect x="411.0" y="597.5" width="28" height="25" fill="#ff00ff" stroke="#3a003a" stroke-width="3"/>
<rect x="541.0" y="752.5" width="28" height="25" fill="#ff00ff" stroke="#3a003a" stroke-width="3"/>
<rect x="994.0" y="775.5" width="28" height="25" fill="#ff00ff" stroke="#3a003a" stroke-width="3"/>
<rect x="1012.0" y="793.5" width="28" height="25" fill="#ff00ff" stroke="#3a003a" stroke-width="3"/>
<rect x="1002.0" y="819.5" width="28" height="25" fill="#ff00ff" stroke="#3a003a" stroke-width="3"/>
<rect x="1133.0" y="815.5" width="28" height="25" fill="#ff00ff" stroke="#3a003a" stroke-width="3"/>
<rect x="1174.0" y="853.5" width="28" height="25" fill="#ff00ff" stroke="#3a003a" stroke-width="3"/>
<rect x="1072.0" y="955.5" width="28" height="25" fill="#ff00ff" stroke="#3a003a" stroke-width="3"/>
<polygon points="1661.5,302.0 1680.0,285.5 1698.5,302.0 1680.0,318.5" fill="#00ffff" stroke="#003838" stroke-width="3" stroke-linejoin="round"/>
<polygon points="1694.5,318.0 1713.0,301.5 1731.5,318.0 1713.0,334.5" fill="#00ffff" stroke="#003838" stroke-width="3" stroke-linejoin="round"/>
<polygon points="1709.5,328.0 1728.0,311.5 1746.5,328.0 1728.0,344.5" fill="#00ffff" stroke="#003838" stroke-width="3" stroke-linejoin="round"/>
<polygon points="1671.5,348.0 1690.0,331.5 1708.5,348.0 1690.0,364.5" fill="#00ffff" stroke="#003838" stroke-width="3" stroke-linejoin="round"/>
<polygon points="1643.5,358.0 1662.0,341.5 1680.5,358.0 1662.0,374.5" fill="#00ffff" stroke="#003838" stroke-width="3" stroke-linejoin="round"/>
<polygon points="1597.5,376.0 1616.0,359.5 1634.5,376.0 1616.0,392.5" fill="#00ffff" stroke="#003838" stroke-width="3" stroke-linejoin="round"/>
<polygon points="1565.5,404.0 1584.0,387.5 1602.5,404.0 1584.0,420.5" fill="#00ffff" stroke="#003838" stroke-width="3" stroke-linejoin="round"/>
<polygon points="1547.5,414.0 1566.0,397.5 1584.5,414.0 1566.0,430.5" fill="#00ffff" stroke="#003838" stroke-width="3" stroke-linejoin="round"/>
<polygon points="1529.5,438.0 1548.0,421.5 1566.5,438.0 1548.0,454.5" fill="#00ffff" stroke="#003838" stroke-width="3" stroke-linejoin="round"/>
<polygon points="1595.5,442.0 1614.0,425.5 1632.5,442.0 1614.0,458.5" fill="#00ffff" stroke="#003838" stroke-width="3" stroke-linejoin="round"/>
<polygon points="1517.5,496.0 1536.0,479.5 1554.5,496.0 1536.0,512.5" fill="#00ffff" stroke="#003838" stroke-width="3" stroke-linejoin="round"/>
<polygon points="1509.5,554.0 1528.0,537.5 1546.5,554.0 1528.0,570.5" fill="#00ffff" stroke="#003838" stroke-width="3" stroke-linejoin="round"/>
<polygon points="1445.5,470.0 1464.0,453.5 1482.5,470.0 1464.0,486.5" fill="#00ffff" stroke="#003838" stroke-width="3" stroke-linejoin="round"/>
<polygon points="1409.5,498.0 1428.0,481.5 1446.5,498.0 1428.0,514.5" fill="#00ffff" stroke="#003838" stroke-width="3" stroke-linejoin="round"/>
<polygon points="1321.5,514.0 1340.0,497.5 1358.5,514.0 1340.0,530.5" fill="#00ffff" stroke="#003838" stroke-width="3" stroke-linejoin="round"/>
<polygon points="1433.5,514.0 1452.0,497.5 1470.5,514.0 1452.0,530.5" fill="#00ffff" stroke="#003838" stroke-width="3" stroke-linejoin="round"/>
<polygon points="1379.5,516.0 1398.0,499.5 1416.5,516.0 1398.0,532.5" fill="#00ffff" stroke="#003838" stroke-width="3" stroke-linejoin="round"/>
<polygon points="1241.5,538.0 1260.0,521.5 1278.5,538.0 1260.0,554.5" fill="#00ffff" stroke="#003838" stroke-width="3" stroke-linejoin="round"/>
<polygon points="1323.5,534.0 1342.0,517.5 1360.5,534.0 1342.0,550.5" fill="#00ffff" stroke="#003838" stroke-width="3" stroke-linejoin="round"/>
<polygon points="1435.5,522.0 1454.0,505.5 1472.5,522.0 1454.0,538.5" fill="#00ffff" stroke="#003838" stroke-width="3" stroke-linejoin="round"/>
<polygon points="1393.5,584.0 1412.0,567.5 1430.5,584.0 1412.0,600.5" fill="#00ffff" stroke="#003838" stroke-width="3" stroke-linejoin="round"/>
<polygon points="1249.5,584.0 1268.0,567.5 1286.5,584.0 1268.0,600.5" fill="#00ffff" stroke="#003838" stroke-width="3" stroke-linejoin="round"/>
<polygon points="1169.5,610.0 1188.0,593.5 1206.5,610.0 1188.0,626.5" fill="#00ffff" stroke="#003838" stroke-width="3" stroke-linejoin="round"/>
<polygon points="1275.5,624.0 1294.0,607.5 1312.5,624.0 1294.0,640.5" fill="#00ffff" stroke="#003838" stroke-width="3" stroke-linejoin="round"/>
<polygon points="1261.5,618.0 1280.0,601.5 1298.5,618.0 1280.0,634.5" fill="#00ffff" stroke="#003838" stroke-width="3" stroke-linejoin="round"/>
<polygon points="1229.5,666.0 1248.0,649.5 1266.5,666.0 1248.0,682.5" fill="#00ffff" stroke="#003838" stroke-width="3" stroke-linejoin="round"/>
<polygon points="1147.5,634.0 1166.0,617.5 1184.5,634.0 1166.0,650.5" fill="#00ffff" stroke="#003838" stroke-width="3" stroke-linejoin="round"/>
<polygon points="1139.5,690.0 1158.0,673.5 1176.5,690.0 1158.0,706.5" fill="#00ffff" stroke="#003838" stroke-width="3" stroke-linejoin="round"/>
<polygon points="1055.5,670.0 1074.0,653.5 1092.5,670.0 1074.0,686.5" fill="#00ffff" stroke="#003838" stroke-width="3" stroke-linejoin="round"/>
<polygon points="1073.5,688.0 1092.0,671.5 1110.5,688.0 1092.0,704.5" fill="#00ffff" stroke="#003838" stroke-width="3" stroke-linejoin="round"/>
<polygon points="1093.5,696.0 1112.0,679.5 1130.5,696.0 1112.0,712.5" fill="#00ffff" stroke="#003838" stroke-width="3" stroke-linejoin="round"/>
<polygon points="1109.5,676.0 1128.0,659.5 1146.5,676.0 1128.0,692.5" fill="#00ffff" stroke="#003838" stroke-width="3" stroke-linejoin="round"/>
<polygon points="1125.5,754.0 1144.0,737.5 1162.5,754.0 1144.0,770.5" fill="#00ffff" stroke="#003838" stroke-width="3" stroke-linejoin="round"/>
<polygon points="1063.5,782.0 1082.0,765.5 1100.5,782.0 1082.0,798.5" fill="#00ffff" stroke="#003838" stroke-width="3" stroke-linejoin="round"/>
<polygon points="1045.5,674.0 1064.0,657.5 1082.5,674.0 1064.0,690.5" fill="#00ffff" stroke="#003838" stroke-width="3" stroke-linejoin="round"/>
<polygon points="1025.5,690.0 1044.0,673.5 1062.5,690.0 1044.0,706.5" fill="#00ffff" stroke="#003838" stroke-width="3" stroke-linejoin="round"/>
<polygon points="975.5,722.0 994.0,705.5 1012.5,722.0 994.0,738.5" fill="#00ffff" stroke="#003838" stroke-width="3" stroke-linejoin="round"/>
<polygon points="921.5,750.0 940.0,733.5 958.5,750.0 940.0,766.5" fill="#00ffff" stroke="#003838" stroke-width="3" stroke-linejoin="round"/>
<polygon points="993.5,750.0 1012.0,733.5 1030.5,750.0 1012.0,766.5" fill="#00ffff" stroke="#003838" stroke-width="3" stroke-linejoin="round"/>
<polygon points="1041.5,774.0 1060.0,757.5 1078.5,774.0 1060.0,790.5" fill="#00ffff" stroke="#003838" stroke-width="3" stroke-linejoin="round"/>
<polygon points="897.5,754.0 916.0,737.5 934.5,754.0 916.0,770.5" fill="#00ffff" stroke="#003838" stroke-width="3" stroke-linejoin="round"/>
<polygon points="967.5,780.0 986.0,763.5 1004.5,780.0 986.0,796.5" fill="#00ffff" stroke="#003838" stroke-width="3" stroke-linejoin="round"/>
<polygon points="945.5,800.0 964.0,783.5 982.5,800.0 964.0,816.5" fill="#00ffff" stroke="#003838" stroke-width="3" stroke-linejoin="round"/>
<polygon points="871.5,822.0 890.0,805.5 908.5,822.0 890.0,838.5" fill="#00ffff" stroke="#003838" stroke-width="3" stroke-linejoin="round"/>
<polygon points="809.5,812.0 828.0,795.5 846.5,812.0 828.0,828.5" fill="#00ffff" stroke="#003838" stroke-width="3" stroke-linejoin="round"/>
<polygon points="795.5,832.0 814.0,815.5 832.5,832.0 814.0,848.5" fill="#00ffff" stroke="#003838" stroke-width="3" stroke-linejoin="round"/>
<polygon points="773.5,846.0 792.0,829.5 810.5,846.0 792.0,862.5" fill="#00ffff" stroke="#003838" stroke-width="3" stroke-linejoin="round"/>
<polygon points="741.5,862.0 760.0,845.5 778.5,862.0 760.0,878.5" fill="#00ffff" stroke="#003838" stroke-width="3" stroke-linejoin="round"/>
<polygon points="765.5,864.0 784.0,847.5 802.5,864.0 784.0,880.5" fill="#00ffff" stroke="#003838" stroke-width="3" stroke-linejoin="round"/>
<polygon points="691.5,888.0 710.0,871.5 728.5,888.0 710.0,904.5" fill="#00ffff" stroke="#003838" stroke-width="3" stroke-linejoin="round"/>
<polygon points="657.5,908.0 676.0,891.5 694.5,908.0 676.0,924.5" fill="#00ffff" stroke="#003838" stroke-width="3" stroke-linejoin="round"/>
<polygon points="689.5,902.0 708.0,885.5 726.5,902.0 708.0,918.5" fill="#00ffff" stroke="#003838" stroke-width="3" stroke-linejoin="round"/>
<polygon points="779.5,886.0 798.0,869.5 816.5,886.0 798.0,902.5" fill="#00ffff" stroke="#003838" stroke-width="3" stroke-linejoin="round"/>
<polygon points="671.5,946.0 690.0,929.5 708.5,946.0 690.0,962.5" fill="#00ffff" stroke="#003838" stroke-width="3" stroke-linejoin="round"/>
<polygon points="711.5,944.0 730.0,927.5 748.5,944.0 730.0,960.5" fill="#00ffff" stroke="#003838" stroke-width="3" stroke-linejoin="round"/>
<polygon points="625.5,948.0 644.0,931.5 662.5,948.0 644.0,964.5" fill="#00ffff" stroke="#003838" stroke-width="3" stroke-linejoin="round"/>
<polygon points="649.5,962.0 668.0,945.5 686.5,962.0 668.0,978.5" fill="#00ffff" stroke="#003838" stroke-width="3" stroke-linejoin="round"/>
<polygon points="673.5,1022.0 692.0,1005.5 710.5,1022.0 692.0,1038.5" fill="#00ffff" stroke="#003838" stroke-width="3" stroke-linejoin="round"/>
<polygon points="629.5,1088.0 648.0,1071.5 666.5,1088.0 648.0,1104.5" fill="#00ffff" stroke="#003838" stroke-width="3" stroke-linejoin="round"/>
<polygon points="421.5,866.0 440.0,849.5 458.5,866.0 440.0,882.5" fill="#00ffff" stroke="#003838" stroke-width="3" stroke-linejoin="round"/>
<polygon points="519.5,1050.0 538.0,1033.5 556.5,1050.0 538.0,1066.5" fill="#00ffff" stroke="#003838" stroke-width="3" stroke-linejoin="round"/>
<polygon points="541.5,1036.0 560.0,1019.5 578.5,1036.0 560.0,1052.5" fill="#00ffff" stroke="#003838" stroke-width="3" stroke-linejoin="round"/>
<polygon points="573.5,1020.0 592.0,1003.5 610.5,1020.0 592.0,1036.5" fill="#00ffff" stroke="#003838" stroke-width="3" stroke-linejoin="round"/>
<polygon points="549.5,1050.0 568.0,1033.5 586.5,1050.0 568.0,1066.5" fill="#00ffff" stroke="#003838" stroke-width="3" stroke-linejoin="round"/>
<polygon points="571.5,1036.0 590.0,1019.5 608.5,1036.0 590.0,1052.5" fill="#00ffff" stroke="#003838" stroke-width="3" stroke-linejoin="round"/>
<polygon points="519.5,1086.0 538.0,1069.5 556.5,1086.0 538.0,1102.5" fill="#00ffff" stroke="#003838" stroke-width="3" stroke-linejoin="round"/>
<polygon points="509.5,1074.0 528.0,1057.5 546.5,1074.0 528.0,1090.5" fill="#00ffff" stroke="#003838" stroke-width="3" stroke-linejoin="round"/>
<polygon points="627.5,1088.0 646.0,1071.5 664.5,1088.0 646.0,1104.5" fill="#00ffff" stroke="#003838" stroke-width="3" stroke-linejoin="round"/>
<polygon points="673.5,944.0 692.0,927.5 710.5,944.0 692.0,960.5" fill="#00ffff" stroke="#003838" stroke-width="3" stroke-linejoin="round"/>
<polygon points="627.5,948.0 646.0,931.5 664.5,948.0 646.0,964.5" fill="#00ffff" stroke="#003838" stroke-width="3" stroke-linejoin="round"/>
<polygon points="645.5,966.0 664.0,949.5 682.5,966.0 664.0,982.5" fill="#00ffff" stroke="#003838" stroke-width="3" stroke-linejoin="round"/>
<polygon points="659.5,906.0 678.0,889.5 696.5,906.0 678.0,922.5" fill="#00ffff" stroke="#003838" stroke-width="3" stroke-linejoin="round"/>
<polygon points="691.5,900.0 710.0,883.5 728.5,900.0 710.0,916.5" fill="#00ffff" stroke="#003838" stroke-width="3" stroke-linejoin="round"/>
<polygon points="741.5,860.0 760.0,843.5 778.5,860.0 760.0,876.5" fill="#00ffff" stroke="#003838" stroke-width="3" stroke-linejoin="round"/>
<polygon points="773.5,846.0 792.0,829.5 810.5,846.0 792.0,862.5" fill="#00ffff" stroke="#003838" stroke-width="3" stroke-linejoin="round"/>
<polygon points="715.5,940.0 734.0,923.5 752.5,940.0 734.0,956.5" fill="#00ffff" stroke="#003838" stroke-width="3" stroke-linejoin="round"/>
<polygon points="312.5,1094.0 331.0,1077.5 349.5,1094.0 331.0,1110.5" fill="#00ffff" stroke="#003838" stroke-width="3" stroke-linejoin="round"/>
<polygon points="274.5,1138.0 293.0,1121.5 311.5,1138.0 293.0,1154.5" fill="#00ffff" stroke="#003838" stroke-width="3" stroke-linejoin="round"/>
<polygon points="322.5,1144.0 341.0,1127.5 359.5,1144.0 341.0,1160.5" fill="#00ffff" stroke="#003838" stroke-width="3" stroke-linejoin="round"/>
<polygon points="366.5,1148.0 385.0,1131.5 403.5,1148.0 385.0,1164.5" fill="#00ffff" stroke="#003838" stroke-width="3" stroke-linejoin="round"/>
<polygon points="384.5,1156.0 403.0,1139.5 421.5,1156.0 403.0,1172.5" fill="#00ffff" stroke="#003838" stroke-width="3" stroke-linejoin="round"/>
<polygon points="444.5,1124.0 463.0,1107.5 481.5,1124.0 463.0,1140.5" fill="#00ffff" stroke="#003838" stroke-width="3" stroke-linejoin="round"/>
<polygon points="452.5,1136.0 471.0,1119.5 489.5,1136.0 471.0,1152.5" fill="#00ffff" stroke="#003838" stroke-width="3" stroke-linejoin="round"/>
<polygon points="428.5,1168.0 447.0,1151.5 465.5,1168.0 447.0,1184.5" fill="#00ffff" stroke="#003838" stroke-width="3" stroke-linejoin="round"/>
<polygon points="458.5,1160.0 477.0,1143.5 495.5,1160.0 477.0,1176.5" fill="#00ffff" stroke="#003838" stroke-width="3" stroke-linejoin="round"/>
<polygon points="462.5,1236.0 481.0,1219.5 499.5,1236.0 481.0,1252.5" fill="#00ffff" stroke="#003838" stroke-width="3" stroke-linejoin="round"/>
<polygon points="520.5,1054.0 539.0,1037.5 557.5,1054.0 539.0,1070.5" fill="#00ffff" stroke="#003838" stroke-width="3" stroke-linejoin="round"/>
<polygon points="548.5,1050.0 567.0,1033.5 585.5,1050.0 567.0,1066.5" fill="#00ffff" stroke="#003838" stroke-width="3" stroke-linejoin="round"/>
<polygon points="572.5,1034.0 591.0,1017.5 609.5,1034.0 591.0,1050.5" fill="#00ffff" stroke="#003838" stroke-width="3" stroke-linejoin="round"/>
<polygon points="520.5,1084.0 539.0,1067.5 557.5,1084.0 539.0,1100.5" fill="#00ffff" stroke="#003838" stroke-width="3" stroke-linejoin="round"/>
<polygon points="522.5,1094.0 541.0,1077.5 559.5,1094.0 541.0,1110.5" fill="#00ffff" stroke="#003838" stroke-width="3" stroke-linejoin="round"/>
<polygon points="630.5,1090.0 649.0,1073.5 667.5,1090.0 649.0,1106.5" fill="#00ffff" stroke="#003838" stroke-width="3" stroke-linejoin="round"/>
<polygon points="1063.5,788.0 1082.0,771.5 1100.5,788.0 1082.0,804.5" fill="#00ffff" stroke="#003838" stroke-width="3" stroke-linejoin="round"/>
<polygon points="1653.5,326.0 1672.0,309.5 1690.5,326.0 1672.0,342.5" fill="#c0c0c0" stroke="#1a1a1a" stroke-width="3" stroke-linejoin="round"/>
<polygon points="1661.5,336.0 1680.0,319.5 1698.5,336.0 1680.0,352.5" fill="#c0c0c0" stroke="#1a1a1a" stroke-width="3" stroke-linejoin="round"/>
<polygon points="1667.5,368.0 1686.0,351.5 1704.5,368.0 1686.0,384.5" fill="#c0c0c0" stroke="#1a1a1a" stroke-width="3" stroke-linejoin="round"/>
<polygon points="1643.5,380.0 1662.0,363.5 1680.5,380.0 1662.0,396.5" fill="#c0c0c0" stroke="#1a1a1a" stroke-width="3" stroke-linejoin="round"/>
<polygon points="1597.5,390.0 1616.0,373.5 1634.5,390.0 1616.0,406.5" fill="#c0c0c0" stroke="#1a1a1a" stroke-width="3" stroke-linejoin="round"/>
<polygon points="1603.5,406.0 1622.0,389.5 1640.5,406.0 1622.0,422.5" fill="#c0c0c0" stroke="#1a1a1a" stroke-width="3" stroke-linejoin="round"/>
<polygon points="1589.5,426.0 1608.0,409.5 1626.5,426.0 1608.0,442.5" fill="#c0c0c0" stroke="#1a1a1a" stroke-width="3" stroke-linejoin="round"/>
<polygon points="1509.5,434.0 1528.0,417.5 1546.5,434.0 1528.0,450.5" fill="#c0c0c0" stroke="#1a1a1a" stroke-width="3" stroke-linejoin="round"/>
<polygon points="1493.5,472.0 1512.0,455.5 1530.5,472.0 1512.0,488.5" fill="#c0c0c0" stroke="#1a1a1a" stroke-width="3" stroke-linejoin="round"/>
<polygon points="1603.5,476.0 1622.0,459.5 1640.5,476.0 1622.0,492.5" fill="#c0c0c0" stroke="#1a1a1a" stroke-width="3" stroke-linejoin="round"/>
<polygon points="1485.5,496.0 1504.0,479.5 1522.5,496.0 1504.0,512.5" fill="#c0c0c0" stroke="#1a1a1a" stroke-width="3" stroke-linejoin="round"/>
<polygon points="1533.5,548.0 1552.0,531.5 1570.5,548.0 1552.0,564.5" fill="#c0c0c0" stroke="#1a1a1a" stroke-width="3" stroke-linejoin="round"/>
<polygon points="1429.5,488.0 1448.0,471.5 1466.5,488.0 1448.0,504.5" fill="#c0c0c0" stroke="#1a1a1a" stroke-width="3" stroke-linejoin="round"/>
<polygon points="1453.5,492.0 1472.0,475.5 1490.5,492.0 1472.0,508.5" fill="#c0c0c0" stroke="#1a1a1a" stroke-width="3" stroke-linejoin="round"/>
<polygon points="1475.5,498.0 1494.0,481.5 1512.5,498.0 1494.0,514.5" fill="#c0c0c0" stroke="#1a1a1a" stroke-width="3" stroke-linejoin="round"/>
<polygon points="1393.5,500.0 1412.0,483.5 1430.5,500.0 1412.0,516.5" fill="#c0c0c0" stroke="#1a1a1a" stroke-width="3" stroke-linejoin="round"/>
<polygon points="1367.5,530.0 1386.0,513.5 1404.5,530.0 1386.0,546.5" fill="#c0c0c0" stroke="#1a1a1a" stroke-width="3" stroke-linejoin="round"/>
<polygon points="1341.5,558.0 1360.0,541.5 1378.5,558.0 1360.0,574.5" fill="#c0c0c0" stroke="#1a1a1a" stroke-width="3" stroke-linejoin="round"/>
<polygon points="1379.5,550.0 1398.0,533.5 1416.5,550.0 1398.0,566.5" fill="#c0c0c0" stroke="#1a1a1a" stroke-width="3" stroke-linejoin="round"/>
<polygon points="1315.5,578.0 1334.0,561.5 1352.5,578.0 1334.0,594.5" fill="#c0c0c0" stroke="#1a1a1a" stroke-width="3" stroke-linejoin="round"/>
<polygon points="1299.5,570.0 1318.0,553.5 1336.5,570.0 1318.0,586.5" fill="#c0c0c0" stroke="#1a1a1a" stroke-width="3" stroke-linejoin="round"/>
<polygon points="1275.5,574.0 1294.0,557.5 1312.5,574.0 1294.0,590.5" fill="#c0c0c0" stroke="#1a1a1a" stroke-width="3" stroke-linejoin="round"/>
<polygon points="1219.5,582.0 1238.0,565.5 1256.5,582.0 1238.0,598.5" fill="#c0c0c0" stroke="#1a1a1a" stroke-width="3" stroke-linejoin="round"/>
<polygon points="1179.5,564.0 1198.0,547.5 1216.5,564.0 1198.0,580.5" fill="#c0c0c0" stroke="#1a1a1a" stroke-width="3" stroke-linejoin="round"/>
<polygon points="1191.5,618.0 1210.0,601.5 1228.5,618.0 1210.0,634.5" fill="#c0c0c0" stroke="#1a1a1a" stroke-width="3" stroke-linejoin="round"/>
<polygon points="1245.5,606.0 1264.0,589.5 1282.5,606.0 1264.0,622.5" fill="#c0c0c0" stroke="#1a1a1a" stroke-width="3" stroke-linejoin="round"/>
<polygon points="1277.5,596.0 1296.0,579.5 1314.5,596.0 1296.0,612.5" fill="#c0c0c0" stroke="#1a1a1a" stroke-width="3" stroke-linejoin="round"/>
<polygon points="1277.5,608.0 1296.0,591.5 1314.5,608.0 1296.0,624.5" fill="#c0c0c0" stroke="#1a1a1a" stroke-width="3" stroke-linejoin="round"/>
<polygon points="1245.5,696.0 1264.0,679.5 1282.5,696.0 1264.0,712.5" fill="#c0c0c0" stroke="#1a1a1a" stroke-width="3" stroke-linejoin="round"/>
<polygon points="1211.5,632.0 1230.0,615.5 1248.5,632.0 1230.0,648.5" fill="#c0c0c0" stroke="#1a1a1a" stroke-width="3" stroke-linejoin="round"/>
<polygon points="1189.5,644.0 1208.0,627.5 1226.5,644.0 1208.0,660.5" fill="#c0c0c0" stroke="#1a1a1a" stroke-width="3" stroke-linejoin="round"/>
<polygon points="1173.5,668.0 1192.0,651.5 1210.5,668.0 1192.0,684.5" fill="#c0c0c0" stroke="#1a1a1a" stroke-width="3" stroke-linejoin="round"/>
<polygon points="1177.5,650.0 1196.0,633.5 1214.5,650.0 1196.0,666.5" fill="#c0c0c0" stroke="#1a1a1a" stroke-width="3" stroke-linejoin="round"/>
<polygon points="1161.5,654.0 1180.0,637.5 1198.5,654.0 1180.0,670.5" fill="#c0c0c0" stroke="#1a1a1a" stroke-width="3" stroke-linejoin="round"/>
<polygon points="1145.5,644.0 1164.0,627.5 1182.5,644.0 1164.0,660.5" fill="#c0c0c0" stroke="#1a1a1a" stroke-width="3" stroke-linejoin="round"/>
<polygon points="1129.5,644.0 1148.0,627.5 1166.5,644.0 1148.0,660.5" fill="#c0c0c0" stroke="#1a1a1a" stroke-width="3" stroke-linejoin="round"/>
<polygon points="1123.5,688.0 1142.0,671.5 1160.5,688.0 1142.0,704.5" fill="#c0c0c0" stroke="#1a1a1a" stroke-width="3" stroke-linejoin="round"/>
<polygon points="1109.5,704.0 1128.0,687.5 1146.5,704.0 1128.0,720.5" fill="#c0c0c0" stroke="#1a1a1a" stroke-width="3" stroke-linejoin="round"/>
<polygon points="1057.5,694.0 1076.0,677.5 1094.5,694.0 1076.0,710.5" fill="#c0c0c0" stroke="#1a1a1a" stroke-width="3" stroke-linejoin="round"/>
<polygon points="1069.5,708.0 1088.0,691.5 1106.5,708.0 1088.0,724.5" fill="#c0c0c0" stroke="#1a1a1a" stroke-width="3" stroke-linejoin="round"/>
<polygon points="1053.5,720.0 1072.0,703.5 1090.5,720.0 1072.0,736.5" fill="#c0c0c0" stroke="#1a1a1a" stroke-width="3" stroke-linejoin="round"/>
<polygon points="1127.5,772.0 1146.0,755.5 1164.5,772.0 1146.0,788.5" fill="#c0c0c0" stroke="#1a1a1a" stroke-width="3" stroke-linejoin="round"/>
<polygon points="1035.5,716.0 1054.0,699.5 1072.5,716.0 1054.0,732.5" fill="#c0c0c0" stroke="#1a1a1a" stroke-width="3" stroke-linejoin="round"/>
<polygon points="1019.5,740.0 1038.0,723.5 1056.5,740.0 1038.0,756.5" fill="#c0c0c0" stroke="#1a1a1a" stroke-width="3" stroke-linejoin="round"/>
<polygon points="1037.5,752.0 1056.0,735.5 1074.5,752.0 1056.0,768.5" fill="#c0c0c0" stroke="#1a1a1a" stroke-width="3" stroke-linejoin="round"/>
<polygon points="1013.5,768.0 1032.0,751.5 1050.5,768.0 1032.0,784.5" fill="#c0c0c0" stroke="#1a1a1a" stroke-width="3" stroke-linejoin="round"/>
<polygon points="879.5,760.0 898.0,743.5 916.5,760.0 898.0,776.5" fill="#c0c0c0" stroke="#1a1a1a" stroke-width="3" stroke-linejoin="round"/>
<polygon points="937.5,776.0 956.0,759.5 974.5,776.0 956.0,792.5" fill="#c0c0c0" stroke="#1a1a1a" stroke-width="3" stroke-linejoin="round"/>
<polygon points="919.5,800.0 938.0,783.5 956.5,800.0 938.0,816.5" fill="#c0c0c0" stroke="#1a1a1a" stroke-width="3" stroke-linejoin="round"/>
<polygon points="921.5,816.0 940.0,799.5 958.5,816.0 940.0,832.5" fill="#c0c0c0" stroke="#1a1a1a" stroke-width="3" stroke-linejoin="round"/>
<polygon points="893.5,830.0 912.0,813.5 930.5,830.0 912.0,846.5" fill="#c0c0c0" stroke="#1a1a1a" stroke-width="3" stroke-linejoin="round"/>
<polygon points="895.5,852.0 914.0,835.5 932.5,852.0 914.0,868.5" fill="#c0c0c0" stroke="#1a1a1a" stroke-width="3" stroke-linejoin="round"/>
<polygon points="835.5,816.0 854.0,799.5 872.5,816.0 854.0,832.5" fill="#c0c0c0" stroke="#1a1a1a" stroke-width="3" stroke-linejoin="round"/>
<polygon points="835.5,844.0 854.0,827.5 872.5,844.0 854.0,860.5" fill="#c0c0c0" stroke="#1a1a1a" stroke-width="3" stroke-linejoin="round"/>
<polygon points="731.5,834.0 750.0,817.5 768.5,834.0 750.0,850.5" fill="#c0c0c0" stroke="#1a1a1a" stroke-width="3" stroke-linejoin="round"/>
<polygon points="709.5,876.0 728.0,859.5 746.5,876.0 728.0,892.5" fill="#c0c0c0" stroke="#1a1a1a" stroke-width="3" stroke-linejoin="round"/>
<polygon points="805.5,866.0 824.0,849.5 842.5,866.0 824.0,882.5" fill="#c0c0c0" stroke="#1a1a1a" stroke-width="3" stroke-linejoin="round"/>
<polygon points="817.5,884.0 836.0,867.5 854.5,884.0 836.0,900.5" fill="#c0c0c0" stroke="#1a1a1a" stroke-width="3" stroke-linejoin="round"/>
<polygon points="757.5,884.0 776.0,867.5 794.5,884.0 776.0,900.5" fill="#c0c0c0" stroke="#1a1a1a" stroke-width="3" stroke-linejoin="round"/>
<polygon points="733.5,884.0 752.0,867.5 770.5,884.0 752.0,900.5" fill="#c0c0c0" stroke="#1a1a1a" stroke-width="3" stroke-linejoin="round"/>
<polygon points="709.5,910.0 728.0,893.5 746.5,910.0 728.0,926.5" fill="#c0c0c0" stroke="#1a1a1a" stroke-width="3" stroke-linejoin="round"/>
<polygon points="735.5,910.0 754.0,893.5 772.5,910.0 754.0,926.5" fill="#c0c0c0" stroke="#1a1a1a" stroke-width="3" stroke-linejoin="round"/>
<polygon points="757.5,892.0 776.0,875.5 794.5,892.0 776.0,908.5" fill="#c0c0c0" stroke="#1a1a1a" stroke-width="3" stroke-linejoin="round"/>
<polygon points="787.5,910.0 806.0,893.5 824.5,910.0 806.0,926.5" fill="#c0c0c0" stroke="#1a1a1a" stroke-width="3" stroke-linejoin="round"/>
<polygon points="803.5,888.0 822.0,871.5 840.5,888.0 822.0,904.5" fill="#c0c0c0" stroke="#1a1a1a" stroke-width="3" stroke-linejoin="round"/>
<polygon points="647.5,932.0 666.0,915.5 684.5,932.0 666.0,948.5" fill="#c0c0c0" stroke="#1a1a1a" stroke-width="3" stroke-linejoin="round"/>
<polygon points="763.5,924.0 782.0,907.5 800.5,924.0 782.0,940.5" fill="#c0c0c0" stroke="#1a1a1a" stroke-width="3" stroke-linejoin="round"/>
<polygon points="651.5,976.0 670.0,959.5 688.5,976.0 670.0,992.5" fill="#c0c0c0" stroke="#1a1a1a" stroke-width="3" stroke-linejoin="round"/>
<polygon points="685.5,974.0 704.0,957.5 722.5,974.0 704.0,990.5" fill="#c0c0c0" stroke="#1a1a1a" stroke-width="3" stroke-linejoin="round"/>
<polygon points="635.5,998.0 654.0,981.5 672.5,998.0 654.0,1014.5" fill="#c0c0c0" stroke="#1a1a1a" stroke-width="3" stroke-linejoin="round"/>
<polygon points="671.5,998.0 690.0,981.5 708.5,998.0 690.0,1014.5" fill="#c0c0c0" stroke="#1a1a1a" stroke-width="3" stroke-linejoin="round"/>
<polygon points="655.5,1010.0 674.0,993.5 692.5,1010.0 674.0,1026.5" fill="#c0c0c0" stroke="#1a1a1a" stroke-width="3" stroke-linejoin="round"/>
<polygon points="643.5,1024.0 662.0,1007.5 680.5,1024.0 662.0,1040.5" fill="#c0c0c0" stroke="#1a1a1a" stroke-width="3" stroke-linejoin="round"/>
<polygon points="677.5,1060.0 696.0,1043.5 714.5,1060.0 696.0,1076.5" fill="#c0c0c0" stroke="#1a1a1a" stroke-width="3" stroke-linejoin="round"/>
<polygon points="643.5,1102.0 662.0,1085.5 680.5,1102.0 662.0,1118.5" fill="#c0c0c0" stroke="#1a1a1a" stroke-width="3" stroke-linejoin="round"/>
<polygon points="517.5,880.0 536.0,863.5 554.5,880.0 536.0,896.5" fill="#c0c0c0" stroke="#1a1a1a" stroke-width="3" stroke-linejoin="round"/>
<polygon points="421.5,950.0 440.0,933.5 458.5,950.0 440.0,966.5" fill="#c0c0c0" stroke="#1a1a1a" stroke-width="3" stroke-linejoin="round"/>
<polygon points="471.5,1018.0 490.0,1001.5 508.5,1018.0 490.0,1034.5" fill="#c0c0c0" stroke="#1a1a1a" stroke-width="3" stroke-linejoin="round"/>
<polygon points="545.5,1012.0 564.0,995.5 582.5,1012.0 564.0,1028.5" fill="#c0c0c0" stroke="#1a1a1a" stroke-width="3" stroke-linejoin="round"/>
<polygon points="593.5,1044.0 612.0,1027.5 630.5,1044.0 612.0,1060.5" fill="#c0c0c0" stroke="#1a1a1a" stroke-width="3" stroke-linejoin="round"/>
<polygon points="571.5,1094.0 590.0,1077.5 608.5,1094.0 590.0,1110.5" fill="#c0c0c0" stroke="#1a1a1a" stroke-width="3" stroke-linejoin="round"/>
<polygon points="545.5,1100.0 564.0,1083.5 582.5,1100.0 564.0,1116.5" fill="#c0c0c0" stroke="#1a1a1a" stroke-width="3" stroke-linejoin="round"/>
<polygon points="401.5,1104.0 420.0,1087.5 438.5,1104.0 420.0,1120.5" fill="#c0c0c0" stroke="#1a1a1a" stroke-width="3" stroke-linejoin="round"/>
<polygon points="641.5,1100.0 660.0,1083.5 678.5,1100.0 660.0,1116.5" fill="#c0c0c0" stroke="#1a1a1a" stroke-width="3" stroke-linejoin="round"/>
<polygon points="635.5,1002.0 654.0,985.5 672.5,1002.0 654.0,1018.5" fill="#c0c0c0" stroke="#1a1a1a" stroke-width="3" stroke-linejoin="round"/>
<polygon points="601.5,998.0 620.0,981.5 638.5,998.0 620.0,1014.5" fill="#c0c0c0" stroke="#1a1a1a" stroke-width="3" stroke-linejoin="round"/>
<polygon points="655.5,984.0 674.0,967.5 692.5,984.0 674.0,1000.5" fill="#c0c0c0" stroke="#1a1a1a" stroke-width="3" stroke-linejoin="round"/>
<polygon points="673.5,998.0 692.0,981.5 710.5,998.0 692.0,1014.5" fill="#c0c0c0" stroke="#1a1a1a" stroke-width="3" stroke-linejoin="round"/>
<polygon points="649.5,932.0 668.0,915.5 686.5,932.0 668.0,948.5" fill="#c0c0c0" stroke="#1a1a1a" stroke-width="3" stroke-linejoin="round"/>
<polygon points="709.5,876.0 728.0,859.5 746.5,876.0 728.0,892.5" fill="#c0c0c0" stroke="#1a1a1a" stroke-width="3" stroke-linejoin="round"/>
<polygon points="731.5,834.0 750.0,817.5 768.5,834.0 750.0,850.5" fill="#c0c0c0" stroke="#1a1a1a" stroke-width="3" stroke-linejoin="round"/>
<polygon points="735.5,886.0 754.0,869.5 772.5,886.0 754.0,902.5" fill="#c0c0c0" stroke="#1a1a1a" stroke-width="3" stroke-linejoin="round"/>
<polygon points="759.5,890.0 778.0,873.5 796.5,890.0 778.0,906.5" fill="#c0c0c0" stroke="#1a1a1a" stroke-width="3" stroke-linejoin="round"/>
<polygon points="711.5,910.0 730.0,893.5 748.5,910.0 730.0,926.5" fill="#c0c0c0" stroke="#1a1a1a" stroke-width="3" stroke-linejoin="round"/>
<polygon points="763.5,926.0 782.0,909.5 800.5,926.0 782.0,942.5" fill="#c0c0c0" stroke="#1a1a1a" stroke-width="3" stroke-linejoin="round"/>
<polygon points="472.5,1018.0 491.0,1001.5 509.5,1018.0 491.0,1034.5" fill="#c0c0c0" stroke="#1a1a1a" stroke-width="3" stroke-linejoin="round"/>
<polygon points="276.5,1170.0 295.0,1153.5 313.5,1170.0 295.0,1186.5" fill="#c0c0c0" stroke="#1a1a1a" stroke-width="3" stroke-linejoin="round"/>
<polygon points="322.5,1182.0 341.0,1165.5 359.5,1182.0 341.0,1198.5" fill="#c0c0c0" stroke="#1a1a1a" stroke-width="3" stroke-linejoin="round"/>
<polygon points="326.5,1192.0 345.0,1175.5 363.5,1192.0 345.0,1208.5" fill="#c0c0c0" stroke="#1a1a1a" stroke-width="3" stroke-linejoin="round"/>
<polygon points="388.5,1210.0 407.0,1193.5 425.5,1210.0 407.0,1226.5" fill="#c0c0c0" stroke="#1a1a1a" stroke-width="3" stroke-linejoin="round"/>
<polygon points="402.5,1108.0 421.0,1091.5 439.5,1108.0 421.0,1124.5" fill="#c0c0c0" stroke="#1a1a1a" stroke-width="3" stroke-linejoin="round"/>
<polygon points="478.5,1124.0 497.0,1107.5 515.5,1124.0 497.0,1140.5" fill="#c0c0c0" stroke="#1a1a1a" stroke-width="3" stroke-linejoin="round"/>
<polygon points="472.5,1146.0 491.0,1129.5 509.5,1146.0 491.0,1162.5" fill="#c0c0c0" stroke="#1a1a1a" stroke-width="3" stroke-linejoin="round"/>
<polygon points="500.5,1132.0 519.0,1115.5 537.5,1132.0 519.0,1148.5" fill="#c0c0c0" stroke="#1a1a1a" stroke-width="3" stroke-linejoin="round"/>
<polygon points="526.5,1124.0 545.0,1107.5 563.5,1124.0 545.0,1140.5" fill="#c0c0c0" stroke="#1a1a1a" stroke-width="3" stroke-linejoin="round"/>
<polygon points="548.5,1110.0 567.0,1093.5 585.5,1110.0 567.0,1126.5" fill="#c0c0c0" stroke="#1a1a1a" stroke-width="3" stroke-linejoin="round"/>
<polygon points="444.5,1184.0 463.0,1167.5 481.5,1184.0 463.0,1200.5" fill="#c0c0c0" stroke="#1a1a1a" stroke-width="3" stroke-linejoin="round"/>
<polygon points="452.5,1200.0 471.0,1183.5 489.5,1200.0 471.0,1216.5" fill="#c0c0c0" stroke="#1a1a1a" stroke-width="3" stroke-linejoin="round"/>
<polygon points="544.5,1016.0 563.0,999.5 581.5,1016.0 563.0,1032.5" fill="#c0c0c0" stroke="#1a1a1a" stroke-width="3" stroke-linejoin="round"/>
<polygon points="592.5,1042.0 611.0,1025.5 629.5,1042.0 611.0,1058.5" fill="#c0c0c0" stroke="#1a1a1a" stroke-width="3" stroke-linejoin="round"/>
<polygon points="568.5,1074.0 587.0,1057.5 605.5,1074.0 587.0,1090.5" fill="#c0c0c0" stroke="#1a1a1a" stroke-width="3" stroke-linejoin="round"/>
<polygon points="576.5,1094.0 595.0,1077.5 613.5,1094.0 595.0,1110.5" fill="#c0c0c0" stroke="#1a1a1a" stroke-width="3" stroke-linejoin="round"/>
<polygon points="546.5,1104.0 565.0,1087.5 583.5,1104.0 565.0,1120.5" fill="#c0c0c0" stroke="#1a1a1a" stroke-width="3" stroke-linejoin="round"/>
<polygon points="644.5,1100.0 663.0,1083.5 681.5,1100.0 663.0,1116.5" fill="#c0c0c0" stroke="#1a1a1a" stroke-width="3" stroke-linejoin="round"/>
<polygon points="644.5,1022.0 663.0,1005.5 681.5,1022.0 663.0,1038.5" fill="#c0c0c0" stroke="#1a1a1a" stroke-width="3" stroke-linejoin="round"/>
<polygon points="313.5,780.0 332.0,763.5 350.5,780.0 332.0,796.5" fill="#c0c0c0" stroke="#1a1a1a" stroke-width="3" stroke-linejoin="round"/>
<polygon points="369.5,783.0 388.0,766.5 406.5,783.0 388.0,799.5" fill="#c0c0c0" stroke="#1a1a1a" stroke-width="3" stroke-linejoin="round"/>
<polygon points="346.5,804.0 365.0,787.5 383.5,804.0 365.0,820.5" fill="#c0c0c0" stroke="#1a1a1a" stroke-width="3" stroke-linejoin="round"/>
<polygon points="1127.5,778.0 1146.0,761.5 1164.5,778.0 1146.0,794.5" fill="#c0c0c0" stroke="#1a1a1a" stroke-width="3" stroke-linejoin="round"/>
</g>
<g transform="translate(258.5,1323.0) scale(1.085,1)"><text x="0" y="0" font-family="'Liberation Sans', sans-serif" font-size="49" text-anchor="middle" fill="#111" >0.0</text></g>
<g transform="translate(213.0,1257.0) scale(1.04,1)"><text x="0" y="0" font-family="'Liberation Sans', sans-serif" font-size="49" text-anchor="end" fill="#111" >0.0</text></g>
<g transform="translate(723.2,1323.0) scale(1.085,1)"><text x="0" y="0" font-family="'Liberation Sans', sans-serif" font-size="49" text-anchor="middle" fill="#111" >0.1</text></g>
<g transform="translate(213.0,958.5) scale(1.04,1)"><text x="0" y="0" font-family="'Liberation Sans', sans-serif" font-size="49" text-anchor="end" fill="#111" >0.1</text></g>
<g transform="translate(1188.0,1323.0) scale(1.085,1)"><text x="0" y="0" font-family="'Liberation Sans', sans-serif" font-size="49" text-anchor="middle" fill="#111" >0.2</text></g>
<g transform="translate(213.0,660.0) scale(1.04,1)"><text x="0" y="0" font-family="'Liberation Sans', sans-serif" font-size="49" text-anchor="end" fill="#111" >0.2</text></g>
<g transform="translate(1652.8,1323.0) scale(1.085,1)"><text x="0" y="0" font-family="'Liberation Sans', sans-serif" font-size="49" text-anchor="middle" fill="#111" >0.3</text></g>
<g transform="translate(213.0,361.5) scale(1.04,1)"><text x="0" y="0" font-family="'Liberation Sans', sans-serif" font-size="49" text-anchor="end" fill="#111" >0.3</text></g>
<g transform="translate(2117.5,1323.0) scale(1.085,1)"><text x="0" y="0" font-family="'Liberation Sans', sans-serif" font-size="49" text-anchor="middle" fill="#111" >0.4</text></g>
<g transform="translate(213.0,63.0) scale(1.04,1)"><text x="0" y="0" font-family="'Liberation Sans', sans-serif" font-size="49" text-anchor="end" fill="#111" >0.4</text></g>
<ellipse cx="1760.0" cy="723.7" rx="15.5" ry="14.3" fill="#000000" stroke="#000000" stroke-width="3"/>
<g transform="translate(1849.0,740.7) scale(1.085,1)"><text x="0" y="0" font-family="'Liberation Sans', sans-serif" font-size="48.5" text-anchor="start" fill="#111" >DOY103</text></g>
<ellipse cx="1760.0" cy="783.1" rx="15.5" ry="14.3" fill="#ff0000" stroke="#4a0000" stroke-width="3"/>
<g transform="translate(1849.0,800.1) scale(1.085,1)"><text x="0" y="0" font-family="'Liberation Sans', sans-serif" font-size="48.5" text-anchor="start" fill="#111" >DOY128</text></g>
<polygon points="1742.5,833.5 1777.5,833.5 1760.0,860.5" fill="#00ee00" stroke="#0a3a0a" stroke-width="3" stroke-linejoin="round"/>
<g transform="translate(1849.0,859.5) scale(1.085,1)"><text x="0" y="0" font-family="'Liberation Sans', sans-serif" font-size="48.5" text-anchor="start" fill="#111" >DOY167</text></g>
<polygon points="1743.0,910.6 1777.0,910.6 1760.0,884.6" fill="#ffff00" stroke="#202000" stroke-width="3" stroke-linejoin="round"/>
<g transform="translate(1849.0,918.9) scale(1.085,1)"><text x="0" y="0" font-family="'Liberation Sans', sans-serif" font-size="48.5" text-anchor="start" fill="#111" >DOY192</text></g>
<rect x="1746.0" y="948.8" width="28" height="25" fill="#0000ff" stroke="#00003a" stroke-width="3"/>
<g transform="translate(1849.0,978.3) scale(1.085,1)"><text x="0" y="0" font-family="'Liberation Sans', sans-serif" font-size="48.5" text-anchor="start" fill="#111" >DOY216</text></g>
<rect x="1746.0" y="1008.2" width="28" height="25" fill="#ff00ff" stroke="#3a003a" stroke-width="3"/>
<g transform="translate(1849.0,1037.7) scale(1.085,1)"><text x="0" y="0" font-family="'Liberation Sans', sans-serif" font-size="48.5" text-anchor="start" fill="#111" >DOY248</text></g>
<polygon points="1741.5,1080.1 1760.0,1063.6 1778.5,1080.1 1760.0,1096.6" fill="#00ffff" stroke="#003838" stroke-width="3" stroke-linejoin="round"/>
<g transform="translate(1849.0,1097.1) scale(1.085,1)"><text x="0" y="0" font-family="'Liberation Sans', sans-serif" font-size="48.5" text-anchor="start" fill="#111" >DOY274</text></g>
<polygon points="1741.5,1139.5 1760.0,1123.0 1778.5,1139.5 1760.0,1156.0" fill="#c0c0c0" stroke="#1a1a1a" stroke-width="3" stroke-linejoin="round"/>
<g transform="translate(1849.0,1156.5) scale(1.085,1)"><text x="0" y="0" font-family="'Liberation Sans', sans-serif" font-size="48.5" text-anchor="start" fill="#111" >DOY298</text></g>
<g transform="matrix(0.8793,0,0,1.0171,425.68,200.3)"><text x="0" y="0" font-family="'Liberation Sans', sans-serif" font-weight="400" font-size="50" fill="#111">R</text></g>
<g transform="matrix(0.7455,0,0,0.7229,457.16,174.7)"><text x="0" y="0" font-family="'Liberation Sans', sans-serif" font-weight="400" font-size="50" fill="#111">2</text></g>
<g transform="matrix(1.024,0,0,0.9188,480.15,199.25)"><text x="0" y="0" font-family="'Liberation Sans', sans-serif" font-weight="400" font-size="50" fill="#111">=</text></g>
<g transform="matrix(1.1521,0,0,1.0314,510.2,200.4)"><text x="0" y="0" font-family="'Liberation Sans', sans-serif" font-weight="400" font-size="50" fill="#111">0.896</text></g>
<g transform="matrix(1.0054,0,0,0.9771,424.73,272.5)"><text x="0" y="0" font-family="'Liberation Sans', sans-serif" font-weight="400" font-size="50" fill="#111">RMSE</text></g>
<g transform="matrix(1.024,0,0,0.925,572.35,272.2)"><text x="0" y="0" font-family="'Liberation Sans', sans-serif" font-weight="400" font-size="50" fill="#111">=</text></g>
<g transform="matrix(1.1344,0,0,1.0114,603.53,272.9)"><text x="0" y="0" font-family="'Liberation Sans', sans-serif" font-weight="400" font-size="50" fill="#111">0.024</text></g>
<g transform="matrix(1.1914,0,0,0.9259,746.83,272.5)"><text x="0" y="0" font-family="'Liberation Sans', sans-serif" font-weight="400" font-size="50" fill="#111">m</text></g>
<g transform="matrix(0.7125,0,0,0.75,796.08,248.75)"><text x="0" y="0" font-family="'Liberation Sans', sans-serif" font-weight="400" font-size="50" fill="#111">3</text></g>
<g transform="matrix(1.5267,0,0,1.2012,815.57,275.24)"><text x="0" y="0" font-family="&quot;DejaVu Sans&quot;, sans-serif" font-weight="200" font-size="50" fill="#111">/</text></g>
<g transform="matrix(1.1886,0,0,0.9259,843.13,272.5)"><text x="0" y="0" font-family="'Liberation Sans', sans-serif" font-weight="400" font-size="50" fill="#111">m</text></g>
<g transform="matrix(0.6917,0,0,0.75,892.82,248.75)"><text x="0" y="0" font-family="'Liberation Sans', sans-serif" font-weight="400" font-size="50" fill="#111">3</text></g>
<g transform="translate(866.0,1434.0) scale(1.111,1)"><text x="0" y="0" font-family="'Liberation Sans', sans-serif" font-size="57" text-anchor="start" fill="#111" >Simulated SSM(m<tspan font-size="37" dy="-27.5">3</tspan><tspan dy="27.5">/m</tspan><tspan font-size="37" dy="-27.5">3</tspan><tspan dy="27.5">)</tspan></text></g>
<g transform="translate(81.6,930.5) scale(1.1,0.991) rotate(-90)"><text x="0" y="0" font-family="'Liberation Sans', sans-serif" font-size="57" fill="#111">Estimated SSM(m<tspan font-size="37" dy="-27.5">3</tspan><tspan dy="27.5">/m</tspan><tspan font-size="37" dy="-27.5">3</tspan><tspan dy="27.5">)</tspan></text></g>
</svg>
</body></html>
